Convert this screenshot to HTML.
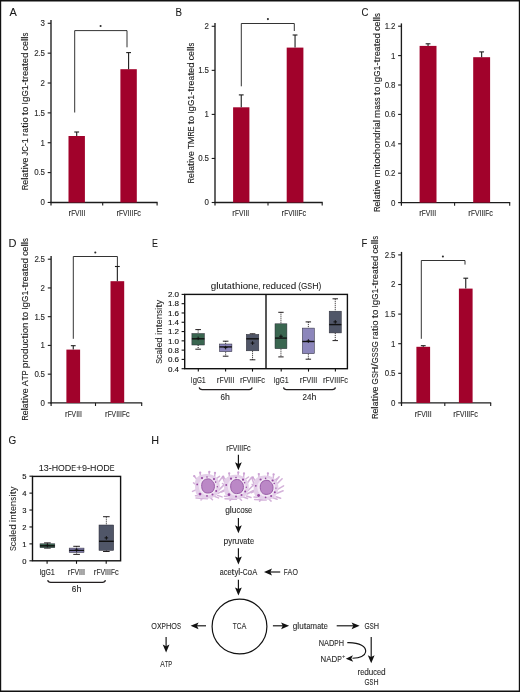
<!DOCTYPE html>
<html><head><meta charset="utf-8"><style>
html,body{margin:0;padding:0;background:#fff;}
body{width:520px;height:692px;overflow:hidden;}
svg{display:block;font-family:"Liberation Sans", sans-serif;will-change:transform;}
</style></head><body>
<svg width="520" height="692" viewBox="0 0 520 692">
<rect x="0" y="0" width="520" height="692" fill="#fff"/>
<text transform="translate(9.60,16.20)" y="0" font-size="11.2" fill="#1a1a1a" stroke="#1a1a1a" stroke-width="0.08"><tspan x="0.00" textLength="7.33" lengthAdjust="spacingAndGlyphs">A</tspan></text>
<line x1="51.0" y1="20.1" x2="51.0" y2="203.1" stroke="#1c1c1c" stroke-width="1.35"/>
<line x1="47.7" y1="202.45" x2="51.0" y2="202.45" stroke="#1c1c1c" stroke-width="1.1"/>
<text transform="translate(40.49,205.35)" y="0" font-size="8.4" fill="#2a2a2a" stroke="#2a2a2a" stroke-width="0.12"><tspan x="0.00" textLength="4.41" lengthAdjust="spacingAndGlyphs">0</tspan></text>
<line x1="47.7" y1="172.59" x2="51.0" y2="172.59" stroke="#1c1c1c" stroke-width="1.1"/>
<text transform="translate(34.30,175.49)" y="0" font-size="8.4" fill="#2a2a2a" stroke="#2a2a2a" stroke-width="0.12"><tspan x="0.00" textLength="4.41" lengthAdjust="spacingAndGlyphs">0</tspan><tspan x="4.41" textLength="1.78" lengthAdjust="spacingAndGlyphs">.</tspan><tspan x="6.19" textLength="4.41" lengthAdjust="spacingAndGlyphs">5</tspan></text>
<line x1="47.7" y1="142.73" x2="51.0" y2="142.73" stroke="#1c1c1c" stroke-width="1.1"/>
<text transform="translate(40.49,145.63)" y="0" font-size="8.4" fill="#2a2a2a" stroke="#2a2a2a" stroke-width="0.12"><tspan x="0.00" textLength="4.41" lengthAdjust="spacingAndGlyphs">1</tspan></text>
<line x1="47.7" y1="112.87" x2="51.0" y2="112.87" stroke="#1c1c1c" stroke-width="1.1"/>
<text transform="translate(34.30,115.77)" y="0" font-size="8.4" fill="#2a2a2a" stroke="#2a2a2a" stroke-width="0.12"><tspan x="0.00" textLength="4.41" lengthAdjust="spacingAndGlyphs">1</tspan><tspan x="4.41" textLength="1.78" lengthAdjust="spacingAndGlyphs">.</tspan><tspan x="6.19" textLength="4.41" lengthAdjust="spacingAndGlyphs">5</tspan></text>
<line x1="47.7" y1="83.01" x2="51.0" y2="83.01" stroke="#1c1c1c" stroke-width="1.1"/>
<text transform="translate(40.49,85.91)" y="0" font-size="8.4" fill="#2a2a2a" stroke="#2a2a2a" stroke-width="0.12"><tspan x="0.00" textLength="4.41" lengthAdjust="spacingAndGlyphs">2</tspan></text>
<line x1="47.7" y1="53.15" x2="51.0" y2="53.15" stroke="#1c1c1c" stroke-width="1.1"/>
<text transform="translate(34.30,56.05)" y="0" font-size="8.4" fill="#2a2a2a" stroke="#2a2a2a" stroke-width="0.12"><tspan x="0.00" textLength="4.41" lengthAdjust="spacingAndGlyphs">2</tspan><tspan x="4.41" textLength="1.78" lengthAdjust="spacingAndGlyphs">.</tspan><tspan x="6.19" textLength="4.41" lengthAdjust="spacingAndGlyphs">5</tspan></text>
<line x1="47.7" y1="23.29" x2="51.0" y2="23.29" stroke="#1c1c1c" stroke-width="1.1"/>
<text transform="translate(40.49,26.19)" y="0" font-size="8.4" fill="#2a2a2a" stroke="#2a2a2a" stroke-width="0.12"><tspan x="0.00" textLength="4.41" lengthAdjust="spacingAndGlyphs">3</tspan></text>
<line x1="50.4" y1="202.5" x2="157.6" y2="202.5" stroke="#1c1c1c" stroke-width="1.35"/>
<line x1="102.7" y1="202.5" x2="102.7" y2="205.6" stroke="#1c1c1c" stroke-width="1.1"/>
<line x1="157.1" y1="202.5" x2="157.1" y2="205.6" stroke="#1c1c1c" stroke-width="1.1"/>
<line x1="51.0" y1="202.5" x2="51.0" y2="205.6" stroke="#1c1c1c" stroke-width="1.2"/>
<rect x="68.5" y="136.0" width="16.400000000000006" height="66.5" fill="#a1022b"/>
<line x1="76.7" y1="136.0" x2="76.7" y2="132.0" stroke="#1c1c1c" stroke-width="1.1"/>
<line x1="74.3" y1="132.0" x2="79.1" y2="132.0" stroke="#1c1c1c" stroke-width="1.1"/>
<rect x="120.4" y="69.2" width="16.400000000000006" height="133.3" fill="#a1022b"/>
<line x1="128.6" y1="69.2" x2="128.6" y2="52.6" stroke="#1c1c1c" stroke-width="1.1"/>
<line x1="126.2" y1="52.6" x2="131.0" y2="52.6" stroke="#1c1c1c" stroke-width="1.1"/>
<text transform="translate(68.50,215.80)" y="0" font-size="8.2" fill="#2a2a2a" stroke="#2a2a2a" stroke-width="0.1"><tspan x="0.00" textLength="2.66" lengthAdjust="spacingAndGlyphs">r</tspan><tspan x="2.66" textLength="3.96" lengthAdjust="spacingAndGlyphs">F</tspan><tspan x="6.62" textLength="4.54" lengthAdjust="spacingAndGlyphs">V</tspan><tspan x="11.17" textLength="1.94" lengthAdjust="spacingAndGlyphs">I</tspan><tspan x="13.11" textLength="1.94" lengthAdjust="spacingAndGlyphs">I</tspan><tspan x="15.06" textLength="1.94" lengthAdjust="spacingAndGlyphs">I</tspan></text>
<text transform="translate(116.40,215.80)" y="0" font-size="8.2" fill="#2a2a2a" stroke="#2a2a2a" stroke-width="0.1"><tspan x="0.00" textLength="2.66" lengthAdjust="spacingAndGlyphs">r</tspan><tspan x="2.66" textLength="3.96" lengthAdjust="spacingAndGlyphs">F</tspan><tspan x="6.62" textLength="4.54" lengthAdjust="spacingAndGlyphs">V</tspan><tspan x="11.16" textLength="1.94" lengthAdjust="spacingAndGlyphs">I</tspan><tspan x="13.11" textLength="1.94" lengthAdjust="spacingAndGlyphs">I</tspan><tspan x="15.05" textLength="1.94" lengthAdjust="spacingAndGlyphs">I</tspan><tspan x="16.99" textLength="3.96" lengthAdjust="spacingAndGlyphs">F</tspan><tspan x="20.96" textLength="3.64" lengthAdjust="spacingAndGlyphs">c</tspan></text>
<text transform="translate(28.1,189.9) rotate(-90)" y="0" font-size="9.4" fill="#1a1a1a" stroke="#1a1a1a" stroke-width="0.12"><tspan x="0.00" textLength="5.27" lengthAdjust="spacingAndGlyphs">R</tspan><tspan x="5.27" textLength="4.91" lengthAdjust="spacingAndGlyphs">e</tspan><tspan x="10.18" textLength="2.31" lengthAdjust="spacingAndGlyphs">l</tspan><tspan x="12.49" textLength="4.72" lengthAdjust="spacingAndGlyphs">a</tspan><tspan x="17.21" textLength="3.24" lengthAdjust="spacingAndGlyphs">t</tspan><tspan x="20.46" textLength="2.29" lengthAdjust="spacingAndGlyphs">i</tspan><tspan x="22.75" textLength="4.71" lengthAdjust="spacingAndGlyphs">v</tspan><tspan x="27.46" textLength="4.91" lengthAdjust="spacingAndGlyphs">e</tspan><tspan x="34.45" textLength="3.63" lengthAdjust="spacingAndGlyphs">J</tspan><tspan x="38.07" textLength="5.68" lengthAdjust="spacingAndGlyphs">C</tspan><tspan x="43.76" textLength="3.01" lengthAdjust="spacingAndGlyphs">-</tspan><tspan x="46.76" textLength="5.03" lengthAdjust="spacingAndGlyphs">1</tspan><tspan x="53.87" textLength="3.20" lengthAdjust="spacingAndGlyphs">r</tspan><tspan x="57.07" textLength="4.72" lengthAdjust="spacingAndGlyphs">a</tspan><tspan x="61.79" textLength="3.24" lengthAdjust="spacingAndGlyphs">t</tspan><tspan x="65.04" textLength="2.29" lengthAdjust="spacingAndGlyphs">i</tspan><tspan x="67.33" textLength="5.38" lengthAdjust="spacingAndGlyphs">o</tspan><tspan x="74.78" textLength="3.24" lengthAdjust="spacingAndGlyphs">t</tspan><tspan x="78.03" textLength="5.38" lengthAdjust="spacingAndGlyphs">o</tspan><tspan x="85.48" textLength="2.34" lengthAdjust="spacingAndGlyphs">I</tspan><tspan x="87.83" textLength="5.48" lengthAdjust="spacingAndGlyphs">g</tspan><tspan x="93.30" textLength="6.33" lengthAdjust="spacingAndGlyphs">G</tspan><tspan x="99.63" textLength="5.03" lengthAdjust="spacingAndGlyphs">1</tspan><tspan x="104.66" textLength="3.01" lengthAdjust="spacingAndGlyphs">-</tspan><tspan x="107.67" textLength="3.24" lengthAdjust="spacingAndGlyphs">t</tspan><tspan x="110.91" textLength="3.20" lengthAdjust="spacingAndGlyphs">r</tspan><tspan x="114.11" textLength="4.91" lengthAdjust="spacingAndGlyphs">e</tspan><tspan x="119.02" textLength="4.72" lengthAdjust="spacingAndGlyphs">a</tspan><tspan x="123.74" textLength="3.24" lengthAdjust="spacingAndGlyphs">t</tspan><tspan x="126.99" textLength="4.91" lengthAdjust="spacingAndGlyphs">e</tspan><tspan x="131.89" textLength="5.53" lengthAdjust="spacingAndGlyphs">d</tspan><tspan x="139.50" textLength="4.39" lengthAdjust="spacingAndGlyphs">c</tspan><tspan x="143.89" textLength="4.91" lengthAdjust="spacingAndGlyphs">e</tspan><tspan x="148.80" textLength="2.31" lengthAdjust="spacingAndGlyphs">l</tspan><tspan x="151.11" textLength="2.31" lengthAdjust="spacingAndGlyphs">l</tspan><tspan x="153.42" textLength="3.88" lengthAdjust="spacingAndGlyphs">s</tspan></text>
<path d="M74.7,112.5 V30.6 H127.0 V47.3" stroke="#1c1c1c" stroke-width="0.9" fill="none"/>
<circle cx="100.6" cy="26.0" r="1.05" fill="#2a2a2a"/>
<text transform="translate(175.50,15.60)" y="0" font-size="11.2" fill="#1a1a1a" stroke="#1a1a1a" stroke-width="0.08"><tspan x="0.00" textLength="6.49" lengthAdjust="spacingAndGlyphs">B</tspan></text>
<line x1="215.0" y1="23.1" x2="215.0" y2="203.1" stroke="#1c1c1c" stroke-width="1.35"/>
<line x1="211.7" y1="202.5" x2="215.0" y2="202.5" stroke="#1c1c1c" stroke-width="1.1"/>
<text transform="translate(204.49,205.40)" y="0" font-size="8.4" fill="#2a2a2a" stroke="#2a2a2a" stroke-width="0.12"><tspan x="0.00" textLength="4.41" lengthAdjust="spacingAndGlyphs">0</tspan></text>
<line x1="211.7" y1="158.45" x2="215.0" y2="158.45" stroke="#1c1c1c" stroke-width="1.1"/>
<text transform="translate(198.30,161.35)" y="0" font-size="8.4" fill="#2a2a2a" stroke="#2a2a2a" stroke-width="0.12"><tspan x="0.00" textLength="4.41" lengthAdjust="spacingAndGlyphs">0</tspan><tspan x="4.41" textLength="1.78" lengthAdjust="spacingAndGlyphs">.</tspan><tspan x="6.19" textLength="4.41" lengthAdjust="spacingAndGlyphs">5</tspan></text>
<line x1="211.7" y1="114.4" x2="215.0" y2="114.4" stroke="#1c1c1c" stroke-width="1.1"/>
<text transform="translate(204.49,117.30)" y="0" font-size="8.4" fill="#2a2a2a" stroke="#2a2a2a" stroke-width="0.12"><tspan x="0.00" textLength="4.41" lengthAdjust="spacingAndGlyphs">1</tspan></text>
<line x1="211.7" y1="70.35" x2="215.0" y2="70.35" stroke="#1c1c1c" stroke-width="1.1"/>
<text transform="translate(198.30,73.25)" y="0" font-size="8.4" fill="#2a2a2a" stroke="#2a2a2a" stroke-width="0.12"><tspan x="0.00" textLength="4.41" lengthAdjust="spacingAndGlyphs">1</tspan><tspan x="4.41" textLength="1.78" lengthAdjust="spacingAndGlyphs">.</tspan><tspan x="6.19" textLength="4.41" lengthAdjust="spacingAndGlyphs">5</tspan></text>
<line x1="211.7" y1="26.3" x2="215.0" y2="26.3" stroke="#1c1c1c" stroke-width="1.1"/>
<text transform="translate(204.49,29.20)" y="0" font-size="8.4" fill="#2a2a2a" stroke="#2a2a2a" stroke-width="0.12"><tspan x="0.00" textLength="4.41" lengthAdjust="spacingAndGlyphs">2</tspan></text>
<line x1="214.4" y1="202.5" x2="322.7" y2="202.5" stroke="#1c1c1c" stroke-width="1.35"/>
<line x1="268.0" y1="202.5" x2="268.0" y2="205.6" stroke="#1c1c1c" stroke-width="1.1"/>
<line x1="322.2" y1="202.5" x2="322.2" y2="205.6" stroke="#1c1c1c" stroke-width="1.1"/>
<line x1="215.0" y1="202.5" x2="215.0" y2="205.6" stroke="#1c1c1c" stroke-width="1.2"/>
<rect x="233.1" y="107.3" width="16.30000000000001" height="95.2" fill="#a1022b"/>
<line x1="241.25" y1="107.3" x2="241.25" y2="94.9" stroke="#1c1c1c" stroke-width="1.1"/>
<line x1="238.85" y1="94.9" x2="243.65" y2="94.9" stroke="#1c1c1c" stroke-width="1.1"/>
<rect x="286.7" y="47.6" width="16.69999999999999" height="154.9" fill="#a1022b"/>
<line x1="295.05" y1="47.6" x2="295.05" y2="35.0" stroke="#1c1c1c" stroke-width="1.1"/>
<line x1="292.65" y1="35.0" x2="297.45" y2="35.0" stroke="#1c1c1c" stroke-width="1.1"/>
<text transform="translate(232.30,215.80)" y="0" font-size="8.2" fill="#2a2a2a" stroke="#2a2a2a" stroke-width="0.1"><tspan x="0.00" textLength="2.66" lengthAdjust="spacingAndGlyphs">r</tspan><tspan x="2.66" textLength="3.96" lengthAdjust="spacingAndGlyphs">F</tspan><tspan x="6.62" textLength="4.54" lengthAdjust="spacingAndGlyphs">V</tspan><tspan x="11.17" textLength="1.94" lengthAdjust="spacingAndGlyphs">I</tspan><tspan x="13.11" textLength="1.94" lengthAdjust="spacingAndGlyphs">I</tspan><tspan x="15.06" textLength="1.94" lengthAdjust="spacingAndGlyphs">I</tspan></text>
<text transform="translate(281.60,215.80)" y="0" font-size="8.2" fill="#2a2a2a" stroke="#2a2a2a" stroke-width="0.1"><tspan x="0.00" textLength="2.66" lengthAdjust="spacingAndGlyphs">r</tspan><tspan x="2.66" textLength="3.96" lengthAdjust="spacingAndGlyphs">F</tspan><tspan x="6.62" textLength="4.54" lengthAdjust="spacingAndGlyphs">V</tspan><tspan x="11.16" textLength="1.94" lengthAdjust="spacingAndGlyphs">I</tspan><tspan x="13.11" textLength="1.94" lengthAdjust="spacingAndGlyphs">I</tspan><tspan x="15.05" textLength="1.94" lengthAdjust="spacingAndGlyphs">I</tspan><tspan x="16.99" textLength="3.96" lengthAdjust="spacingAndGlyphs">F</tspan><tspan x="20.96" textLength="3.64" lengthAdjust="spacingAndGlyphs">c</tspan></text>
<text transform="translate(194.0,183.2) rotate(-90)" y="0" font-size="9.4" fill="#1a1a1a" stroke="#1a1a1a" stroke-width="0.12"><tspan x="0.00" textLength="5.22" lengthAdjust="spacingAndGlyphs">R</tspan><tspan x="5.22" textLength="4.86" lengthAdjust="spacingAndGlyphs">e</tspan><tspan x="10.09" textLength="2.29" lengthAdjust="spacingAndGlyphs">l</tspan><tspan x="12.38" textLength="4.68" lengthAdjust="spacingAndGlyphs">a</tspan><tspan x="17.06" textLength="3.21" lengthAdjust="spacingAndGlyphs">t</tspan><tspan x="20.27" textLength="2.27" lengthAdjust="spacingAndGlyphs">i</tspan><tspan x="22.54" textLength="4.67" lengthAdjust="spacingAndGlyphs">v</tspan><tspan x="27.22" textLength="4.86" lengthAdjust="spacingAndGlyphs">e</tspan><tspan x="34.14" textLength="4.83" lengthAdjust="spacingAndGlyphs">T</tspan><tspan x="38.96" textLength="7.81" lengthAdjust="spacingAndGlyphs">M</tspan><tspan x="46.77" textLength="5.22" lengthAdjust="spacingAndGlyphs">R</tspan><tspan x="51.99" textLength="4.78" lengthAdjust="spacingAndGlyphs">E</tspan><tspan x="58.83" textLength="3.21" lengthAdjust="spacingAndGlyphs">t</tspan><tspan x="62.04" textLength="5.33" lengthAdjust="spacingAndGlyphs">o</tspan><tspan x="69.43" textLength="2.32" lengthAdjust="spacingAndGlyphs">I</tspan><tspan x="71.75" textLength="5.43" lengthAdjust="spacingAndGlyphs">g</tspan><tspan x="77.18" textLength="6.27" lengthAdjust="spacingAndGlyphs">G</tspan><tspan x="83.45" textLength="4.98" lengthAdjust="spacingAndGlyphs">1</tspan><tspan x="88.43" textLength="2.98" lengthAdjust="spacingAndGlyphs">-</tspan><tspan x="91.41" textLength="3.21" lengthAdjust="spacingAndGlyphs">t</tspan><tspan x="94.63" textLength="3.17" lengthAdjust="spacingAndGlyphs">r</tspan><tspan x="97.80" textLength="4.86" lengthAdjust="spacingAndGlyphs">e</tspan><tspan x="102.67" textLength="4.68" lengthAdjust="spacingAndGlyphs">a</tspan><tspan x="107.35" textLength="3.21" lengthAdjust="spacingAndGlyphs">t</tspan><tspan x="110.56" textLength="4.86" lengthAdjust="spacingAndGlyphs">e</tspan><tspan x="115.42" textLength="5.48" lengthAdjust="spacingAndGlyphs">d</tspan><tspan x="122.96" textLength="4.35" lengthAdjust="spacingAndGlyphs">c</tspan><tspan x="127.31" textLength="4.86" lengthAdjust="spacingAndGlyphs">e</tspan><tspan x="132.17" textLength="2.29" lengthAdjust="spacingAndGlyphs">l</tspan><tspan x="134.46" textLength="2.29" lengthAdjust="spacingAndGlyphs">l</tspan><tspan x="136.76" textLength="3.84" lengthAdjust="spacingAndGlyphs">s</tspan></text>
<path d="M241.3,86.3 V23.5 H294.3 V31.0" stroke="#1c1c1c" stroke-width="0.9" fill="none"/>
<circle cx="267.9" cy="19.1" r="1.05" fill="#2a2a2a"/>
<text transform="translate(361.40,16.30)" y="0" font-size="11.2" fill="#1a1a1a" stroke="#1a1a1a" stroke-width="0.08"><tspan x="0.00" textLength="6.95" lengthAdjust="spacingAndGlyphs">C</tspan></text>
<line x1="401.4" y1="23.4" x2="401.4" y2="203.2" stroke="#1c1c1c" stroke-width="1.35"/>
<line x1="398.1" y1="202.6" x2="401.4" y2="202.6" stroke="#1c1c1c" stroke-width="1.1"/>
<text transform="translate(390.89,205.50)" y="0" font-size="8.4" fill="#2a2a2a" stroke="#2a2a2a" stroke-width="0.12"><tspan x="0.00" textLength="4.41" lengthAdjust="spacingAndGlyphs">0</tspan></text>
<line x1="398.1" y1="173.2" x2="401.4" y2="173.2" stroke="#1c1c1c" stroke-width="1.1"/>
<text transform="translate(384.70,176.10)" y="0" font-size="8.4" fill="#2a2a2a" stroke="#2a2a2a" stroke-width="0.12"><tspan x="0.00" textLength="4.41" lengthAdjust="spacingAndGlyphs">0</tspan><tspan x="4.41" textLength="1.78" lengthAdjust="spacingAndGlyphs">.</tspan><tspan x="6.19" textLength="4.41" lengthAdjust="spacingAndGlyphs">2</tspan></text>
<line x1="398.1" y1="143.8" x2="401.4" y2="143.8" stroke="#1c1c1c" stroke-width="1.1"/>
<text transform="translate(384.70,146.70)" y="0" font-size="8.4" fill="#2a2a2a" stroke="#2a2a2a" stroke-width="0.12"><tspan x="0.00" textLength="4.41" lengthAdjust="spacingAndGlyphs">0</tspan><tspan x="4.41" textLength="1.78" lengthAdjust="spacingAndGlyphs">.</tspan><tspan x="6.19" textLength="4.41" lengthAdjust="spacingAndGlyphs">4</tspan></text>
<line x1="398.1" y1="114.4" x2="401.4" y2="114.4" stroke="#1c1c1c" stroke-width="1.1"/>
<text transform="translate(384.70,117.30)" y="0" font-size="8.4" fill="#2a2a2a" stroke="#2a2a2a" stroke-width="0.12"><tspan x="0.00" textLength="4.41" lengthAdjust="spacingAndGlyphs">0</tspan><tspan x="4.41" textLength="1.78" lengthAdjust="spacingAndGlyphs">.</tspan><tspan x="6.19" textLength="4.41" lengthAdjust="spacingAndGlyphs">6</tspan></text>
<line x1="398.1" y1="85.0" x2="401.4" y2="85.0" stroke="#1c1c1c" stroke-width="1.1"/>
<text transform="translate(384.70,87.90)" y="0" font-size="8.4" fill="#2a2a2a" stroke="#2a2a2a" stroke-width="0.12"><tspan x="0.00" textLength="4.41" lengthAdjust="spacingAndGlyphs">0</tspan><tspan x="4.41" textLength="1.78" lengthAdjust="spacingAndGlyphs">.</tspan><tspan x="6.19" textLength="4.41" lengthAdjust="spacingAndGlyphs">8</tspan></text>
<line x1="398.1" y1="55.6" x2="401.4" y2="55.6" stroke="#1c1c1c" stroke-width="1.1"/>
<text transform="translate(390.89,58.50)" y="0" font-size="8.4" fill="#2a2a2a" stroke="#2a2a2a" stroke-width="0.12"><tspan x="0.00" textLength="4.41" lengthAdjust="spacingAndGlyphs">1</tspan></text>
<line x1="398.1" y1="26.2" x2="401.4" y2="26.2" stroke="#1c1c1c" stroke-width="1.1"/>
<text transform="translate(384.70,29.10)" y="0" font-size="8.4" fill="#2a2a2a" stroke="#2a2a2a" stroke-width="0.12"><tspan x="0.00" textLength="4.41" lengthAdjust="spacingAndGlyphs">1</tspan><tspan x="4.41" textLength="1.78" lengthAdjust="spacingAndGlyphs">.</tspan><tspan x="6.19" textLength="4.41" lengthAdjust="spacingAndGlyphs">2</tspan></text>
<line x1="400.8" y1="202.6" x2="510.2" y2="202.6" stroke="#1c1c1c" stroke-width="1.35"/>
<line x1="454.6" y1="202.6" x2="454.6" y2="205.7" stroke="#1c1c1c" stroke-width="1.1"/>
<line x1="509.7" y1="202.6" x2="509.7" y2="205.7" stroke="#1c1c1c" stroke-width="1.1"/>
<line x1="401.4" y1="202.6" x2="401.4" y2="205.7" stroke="#1c1c1c" stroke-width="1.2"/>
<rect x="419.6" y="45.9" width="16.899999999999977" height="156.7" fill="#a1022b"/>
<line x1="428.05" y1="45.9" x2="428.05" y2="43.8" stroke="#1c1c1c" stroke-width="1.1"/>
<line x1="425.65" y1="43.8" x2="430.45" y2="43.8" stroke="#1c1c1c" stroke-width="1.1"/>
<rect x="473.2" y="57.2" width="16.900000000000034" height="145.39999999999998" fill="#a1022b"/>
<line x1="481.65" y1="57.2" x2="481.65" y2="51.9" stroke="#1c1c1c" stroke-width="1.1"/>
<line x1="479.25" y1="51.9" x2="484.05" y2="51.9" stroke="#1c1c1c" stroke-width="1.1"/>
<text transform="translate(419.20,215.80)" y="0" font-size="8.2" fill="#2a2a2a" stroke="#2a2a2a" stroke-width="0.1"><tspan x="0.00" textLength="2.66" lengthAdjust="spacingAndGlyphs">r</tspan><tspan x="2.66" textLength="3.96" lengthAdjust="spacingAndGlyphs">F</tspan><tspan x="6.62" textLength="4.54" lengthAdjust="spacingAndGlyphs">V</tspan><tspan x="11.17" textLength="1.94" lengthAdjust="spacingAndGlyphs">I</tspan><tspan x="13.11" textLength="1.94" lengthAdjust="spacingAndGlyphs">I</tspan><tspan x="15.06" textLength="1.94" lengthAdjust="spacingAndGlyphs">I</tspan></text>
<text transform="translate(468.30,215.80)" y="0" font-size="8.2" fill="#2a2a2a" stroke="#2a2a2a" stroke-width="0.1"><tspan x="0.00" textLength="2.66" lengthAdjust="spacingAndGlyphs">r</tspan><tspan x="2.66" textLength="3.96" lengthAdjust="spacingAndGlyphs">F</tspan><tspan x="6.62" textLength="4.54" lengthAdjust="spacingAndGlyphs">V</tspan><tspan x="11.16" textLength="1.94" lengthAdjust="spacingAndGlyphs">I</tspan><tspan x="13.11" textLength="1.94" lengthAdjust="spacingAndGlyphs">I</tspan><tspan x="15.05" textLength="1.94" lengthAdjust="spacingAndGlyphs">I</tspan><tspan x="16.99" textLength="3.96" lengthAdjust="spacingAndGlyphs">F</tspan><tspan x="20.96" textLength="3.64" lengthAdjust="spacingAndGlyphs">c</tspan></text>
<text transform="translate(379.8,211.8) rotate(-90)" y="0" font-size="9.4" fill="#1a1a1a" stroke="#1a1a1a" stroke-width="0.12"><tspan x="0.00" textLength="5.25" lengthAdjust="spacingAndGlyphs">R</tspan><tspan x="5.25" textLength="4.89" lengthAdjust="spacingAndGlyphs">e</tspan><tspan x="10.14" textLength="2.30" lengthAdjust="spacingAndGlyphs">l</tspan><tspan x="12.44" textLength="4.70" lengthAdjust="spacingAndGlyphs">a</tspan><tspan x="17.14" textLength="3.23" lengthAdjust="spacingAndGlyphs">t</tspan><tspan x="20.37" textLength="2.28" lengthAdjust="spacingAndGlyphs">i</tspan><tspan x="22.65" textLength="4.69" lengthAdjust="spacingAndGlyphs">v</tspan><tspan x="27.34" textLength="4.89" lengthAdjust="spacingAndGlyphs">e</tspan><tspan x="34.30" textLength="8.14" lengthAdjust="spacingAndGlyphs">m</tspan><tspan x="42.44" textLength="2.28" lengthAdjust="spacingAndGlyphs">i</tspan><tspan x="44.72" textLength="3.23" lengthAdjust="spacingAndGlyphs">t</tspan><tspan x="47.95" textLength="5.36" lengthAdjust="spacingAndGlyphs">o</tspan><tspan x="53.30" textLength="4.37" lengthAdjust="spacingAndGlyphs">c</tspan><tspan x="57.67" textLength="5.41" lengthAdjust="spacingAndGlyphs">h</tspan><tspan x="63.09" textLength="5.36" lengthAdjust="spacingAndGlyphs">o</tspan><tspan x="68.44" textLength="5.41" lengthAdjust="spacingAndGlyphs">n</tspan><tspan x="73.86" textLength="5.50" lengthAdjust="spacingAndGlyphs">d</tspan><tspan x="79.36" textLength="3.19" lengthAdjust="spacingAndGlyphs">r</tspan><tspan x="82.55" textLength="2.28" lengthAdjust="spacingAndGlyphs">i</tspan><tspan x="84.83" textLength="4.70" lengthAdjust="spacingAndGlyphs">a</tspan><tspan x="89.54" textLength="2.30" lengthAdjust="spacingAndGlyphs">l</tspan><tspan x="93.91" textLength="8.14" lengthAdjust="spacingAndGlyphs">m</tspan><tspan x="102.04" textLength="4.70" lengthAdjust="spacingAndGlyphs">a</tspan><tspan x="106.74" textLength="3.86" lengthAdjust="spacingAndGlyphs">s</tspan><tspan x="110.61" textLength="3.86" lengthAdjust="spacingAndGlyphs">s</tspan><tspan x="116.54" textLength="3.23" lengthAdjust="spacingAndGlyphs">t</tspan><tspan x="119.77" textLength="5.36" lengthAdjust="spacingAndGlyphs">o</tspan><tspan x="127.19" textLength="2.33" lengthAdjust="spacingAndGlyphs">I</tspan><tspan x="129.52" textLength="5.45" lengthAdjust="spacingAndGlyphs">g</tspan><tspan x="134.98" textLength="6.30" lengthAdjust="spacingAndGlyphs">G</tspan><tspan x="141.28" textLength="5.00" lengthAdjust="spacingAndGlyphs">1</tspan><tspan x="146.28" textLength="2.99" lengthAdjust="spacingAndGlyphs">-</tspan><tspan x="149.28" textLength="3.23" lengthAdjust="spacingAndGlyphs">t</tspan><tspan x="152.51" textLength="3.19" lengthAdjust="spacingAndGlyphs">r</tspan><tspan x="155.70" textLength="4.89" lengthAdjust="spacingAndGlyphs">e</tspan><tspan x="160.59" textLength="4.70" lengthAdjust="spacingAndGlyphs">a</tspan><tspan x="165.29" textLength="3.23" lengthAdjust="spacingAndGlyphs">t</tspan><tspan x="168.52" textLength="4.89" lengthAdjust="spacingAndGlyphs">e</tspan><tspan x="173.40" textLength="5.50" lengthAdjust="spacingAndGlyphs">d</tspan><tspan x="180.97" textLength="4.37" lengthAdjust="spacingAndGlyphs">c</tspan><tspan x="185.34" textLength="4.89" lengthAdjust="spacingAndGlyphs">e</tspan><tspan x="190.23" textLength="2.30" lengthAdjust="spacingAndGlyphs">l</tspan><tspan x="192.53" textLength="2.30" lengthAdjust="spacingAndGlyphs">l</tspan><tspan x="194.84" textLength="3.86" lengthAdjust="spacingAndGlyphs">s</tspan></text>
<text transform="translate(8.40,247.00)" y="0" font-size="11.2" fill="#1a1a1a" stroke="#1a1a1a" stroke-width="0.08"><tspan x="0.00" textLength="7.98" lengthAdjust="spacingAndGlyphs">D</tspan></text>
<line x1="51.1" y1="256.0" x2="51.1" y2="403.5" stroke="#1c1c1c" stroke-width="1.35"/>
<line x1="47.8" y1="402.9" x2="51.1" y2="402.9" stroke="#1c1c1c" stroke-width="1.1"/>
<text transform="translate(40.59,405.80)" y="0" font-size="8.4" fill="#2a2a2a" stroke="#2a2a2a" stroke-width="0.12"><tspan x="0.00" textLength="4.41" lengthAdjust="spacingAndGlyphs">0</tspan></text>
<line x1="47.8" y1="374.16" x2="51.1" y2="374.16" stroke="#1c1c1c" stroke-width="1.1"/>
<text transform="translate(34.40,377.06)" y="0" font-size="8.4" fill="#2a2a2a" stroke="#2a2a2a" stroke-width="0.12"><tspan x="0.00" textLength="4.41" lengthAdjust="spacingAndGlyphs">0</tspan><tspan x="4.41" textLength="1.78" lengthAdjust="spacingAndGlyphs">.</tspan><tspan x="6.19" textLength="4.41" lengthAdjust="spacingAndGlyphs">5</tspan></text>
<line x1="47.8" y1="345.42" x2="51.1" y2="345.42" stroke="#1c1c1c" stroke-width="1.1"/>
<text transform="translate(40.59,348.32)" y="0" font-size="8.4" fill="#2a2a2a" stroke="#2a2a2a" stroke-width="0.12"><tspan x="0.00" textLength="4.41" lengthAdjust="spacingAndGlyphs">1</tspan></text>
<line x1="47.8" y1="316.68" x2="51.1" y2="316.68" stroke="#1c1c1c" stroke-width="1.1"/>
<text transform="translate(34.40,319.58)" y="0" font-size="8.4" fill="#2a2a2a" stroke="#2a2a2a" stroke-width="0.12"><tspan x="0.00" textLength="4.41" lengthAdjust="spacingAndGlyphs">1</tspan><tspan x="4.41" textLength="1.78" lengthAdjust="spacingAndGlyphs">.</tspan><tspan x="6.19" textLength="4.41" lengthAdjust="spacingAndGlyphs">5</tspan></text>
<line x1="47.8" y1="287.94" x2="51.1" y2="287.94" stroke="#1c1c1c" stroke-width="1.1"/>
<text transform="translate(40.59,290.84)" y="0" font-size="8.4" fill="#2a2a2a" stroke="#2a2a2a" stroke-width="0.12"><tspan x="0.00" textLength="4.41" lengthAdjust="spacingAndGlyphs">2</tspan></text>
<line x1="47.8" y1="259.2" x2="51.1" y2="259.2" stroke="#1c1c1c" stroke-width="1.1"/>
<text transform="translate(34.40,262.10)" y="0" font-size="8.4" fill="#2a2a2a" stroke="#2a2a2a" stroke-width="0.12"><tspan x="0.00" textLength="4.41" lengthAdjust="spacingAndGlyphs">2</tspan><tspan x="4.41" textLength="1.78" lengthAdjust="spacingAndGlyphs">.</tspan><tspan x="6.19" textLength="4.41" lengthAdjust="spacingAndGlyphs">5</tspan></text>
<line x1="50.5" y1="402.9" x2="142.2" y2="402.9" stroke="#1c1c1c" stroke-width="1.35"/>
<line x1="95.5" y1="402.9" x2="95.5" y2="406.0" stroke="#1c1c1c" stroke-width="1.1"/>
<line x1="141.7" y1="402.9" x2="141.7" y2="406.0" stroke="#1c1c1c" stroke-width="1.1"/>
<line x1="51.1" y1="402.9" x2="51.1" y2="406.0" stroke="#1c1c1c" stroke-width="1.2"/>
<rect x="66.4" y="349.6" width="13.699999999999989" height="53.299999999999955" fill="#a1022b"/>
<line x1="73.25" y1="349.6" x2="73.25" y2="345.7" stroke="#1c1c1c" stroke-width="1.1"/>
<line x1="70.85" y1="345.7" x2="75.65" y2="345.7" stroke="#1c1c1c" stroke-width="1.1"/>
<rect x="110.5" y="281.2" width="13.700000000000003" height="121.69999999999999" fill="#a1022b"/>
<line x1="117.35" y1="281.2" x2="117.35" y2="266.5" stroke="#1c1c1c" stroke-width="1.1"/>
<line x1="114.95" y1="266.5" x2="119.75" y2="266.5" stroke="#1c1c1c" stroke-width="1.1"/>
<text transform="translate(65.00,416.90)" y="0" font-size="8.2" fill="#2a2a2a" stroke="#2a2a2a" stroke-width="0.1"><tspan x="0.00" textLength="2.66" lengthAdjust="spacingAndGlyphs">r</tspan><tspan x="2.66" textLength="3.96" lengthAdjust="spacingAndGlyphs">F</tspan><tspan x="6.62" textLength="4.54" lengthAdjust="spacingAndGlyphs">V</tspan><tspan x="11.17" textLength="1.94" lengthAdjust="spacingAndGlyphs">I</tspan><tspan x="13.11" textLength="1.94" lengthAdjust="spacingAndGlyphs">I</tspan><tspan x="15.06" textLength="1.94" lengthAdjust="spacingAndGlyphs">I</tspan></text>
<text transform="translate(105.00,416.90)" y="0" font-size="8.2" fill="#2a2a2a" stroke="#2a2a2a" stroke-width="0.1"><tspan x="0.00" textLength="2.66" lengthAdjust="spacingAndGlyphs">r</tspan><tspan x="2.66" textLength="3.96" lengthAdjust="spacingAndGlyphs">F</tspan><tspan x="6.62" textLength="4.54" lengthAdjust="spacingAndGlyphs">V</tspan><tspan x="11.16" textLength="1.94" lengthAdjust="spacingAndGlyphs">I</tspan><tspan x="13.11" textLength="1.94" lengthAdjust="spacingAndGlyphs">I</tspan><tspan x="15.05" textLength="1.94" lengthAdjust="spacingAndGlyphs">I</tspan><tspan x="16.99" textLength="3.96" lengthAdjust="spacingAndGlyphs">F</tspan><tspan x="20.96" textLength="3.64" lengthAdjust="spacingAndGlyphs">c</tspan></text>
<text transform="translate(28.2,420.6) rotate(-90)" y="0" font-size="9.4" fill="#1a1a1a" stroke="#1a1a1a" stroke-width="0.12"><tspan x="0.00" textLength="5.26" lengthAdjust="spacingAndGlyphs">R</tspan><tspan x="5.26" textLength="4.89" lengthAdjust="spacingAndGlyphs">e</tspan><tspan x="10.15" textLength="2.31" lengthAdjust="spacingAndGlyphs">l</tspan><tspan x="12.46" textLength="4.71" lengthAdjust="spacingAndGlyphs">a</tspan><tspan x="17.17" textLength="3.23" lengthAdjust="spacingAndGlyphs">t</tspan><tspan x="20.40" textLength="2.29" lengthAdjust="spacingAndGlyphs">i</tspan><tspan x="22.69" textLength="4.70" lengthAdjust="spacingAndGlyphs">v</tspan><tspan x="27.38" textLength="4.89" lengthAdjust="spacingAndGlyphs">e</tspan><tspan x="34.35" textLength="5.98" lengthAdjust="spacingAndGlyphs">A</tspan><tspan x="40.33" textLength="4.86" lengthAdjust="spacingAndGlyphs">T</tspan><tspan x="45.19" textLength="5.20" lengthAdjust="spacingAndGlyphs">P</tspan><tspan x="52.45" textLength="5.56" lengthAdjust="spacingAndGlyphs">p</tspan><tspan x="58.01" textLength="3.19" lengthAdjust="spacingAndGlyphs">r</tspan><tspan x="61.21" textLength="5.36" lengthAdjust="spacingAndGlyphs">o</tspan><tspan x="66.57" textLength="5.51" lengthAdjust="spacingAndGlyphs">d</tspan><tspan x="72.08" textLength="5.38" lengthAdjust="spacingAndGlyphs">u</tspan><tspan x="77.46" textLength="4.38" lengthAdjust="spacingAndGlyphs">c</tspan><tspan x="81.84" textLength="3.23" lengthAdjust="spacingAndGlyphs">t</tspan><tspan x="85.08" textLength="2.29" lengthAdjust="spacingAndGlyphs">i</tspan><tspan x="87.36" textLength="5.36" lengthAdjust="spacingAndGlyphs">o</tspan><tspan x="92.73" textLength="5.42" lengthAdjust="spacingAndGlyphs">n</tspan><tspan x="100.22" textLength="3.23" lengthAdjust="spacingAndGlyphs">t</tspan><tspan x="103.45" textLength="5.36" lengthAdjust="spacingAndGlyphs">o</tspan><tspan x="110.89" textLength="2.33" lengthAdjust="spacingAndGlyphs">I</tspan><tspan x="113.22" textLength="5.46" lengthAdjust="spacingAndGlyphs">g</tspan><tspan x="118.68" textLength="6.31" lengthAdjust="spacingAndGlyphs">G</tspan><tspan x="124.99" textLength="5.01" lengthAdjust="spacingAndGlyphs">1</tspan><tspan x="130.01" textLength="3.00" lengthAdjust="spacingAndGlyphs">-</tspan><tspan x="133.01" textLength="3.23" lengthAdjust="spacingAndGlyphs">t</tspan><tspan x="136.24" textLength="3.19" lengthAdjust="spacingAndGlyphs">r</tspan><tspan x="139.43" textLength="4.89" lengthAdjust="spacingAndGlyphs">e</tspan><tspan x="144.33" textLength="4.71" lengthAdjust="spacingAndGlyphs">a</tspan><tspan x="149.04" textLength="3.23" lengthAdjust="spacingAndGlyphs">t</tspan><tspan x="152.27" textLength="4.89" lengthAdjust="spacingAndGlyphs">e</tspan><tspan x="157.17" textLength="5.51" lengthAdjust="spacingAndGlyphs">d</tspan><tspan x="164.75" textLength="4.38" lengthAdjust="spacingAndGlyphs">c</tspan><tspan x="169.13" textLength="4.89" lengthAdjust="spacingAndGlyphs">e</tspan><tspan x="174.02" textLength="2.31" lengthAdjust="spacingAndGlyphs">l</tspan><tspan x="176.33" textLength="2.31" lengthAdjust="spacingAndGlyphs">l</tspan><tspan x="178.63" textLength="3.87" lengthAdjust="spacingAndGlyphs">s</tspan></text>
<path d="M73.3,338.8 V256.5 H117.4 V266.3" stroke="#1c1c1c" stroke-width="0.9" fill="none"/>
<circle cx="95.3" cy="252.5" r="1.05" fill="#2a2a2a"/>
<text transform="translate(361.40,246.90)" y="0" font-size="11.2" fill="#1a1a1a" stroke="#1a1a1a" stroke-width="0.08"><tspan x="0.00" textLength="5.83" lengthAdjust="spacingAndGlyphs">F</tspan></text>
<line x1="401.5" y1="251.9" x2="401.5" y2="403.5" stroke="#1c1c1c" stroke-width="1.35"/>
<line x1="398.2" y1="402.9" x2="401.5" y2="402.9" stroke="#1c1c1c" stroke-width="1.1"/>
<text transform="translate(390.99,405.80)" y="0" font-size="8.4" fill="#2a2a2a" stroke="#2a2a2a" stroke-width="0.12"><tspan x="0.00" textLength="4.41" lengthAdjust="spacingAndGlyphs">0</tspan></text>
<line x1="398.2" y1="373.3" x2="401.5" y2="373.3" stroke="#1c1c1c" stroke-width="1.1"/>
<text transform="translate(384.80,376.20)" y="0" font-size="8.4" fill="#2a2a2a" stroke="#2a2a2a" stroke-width="0.12"><tspan x="0.00" textLength="4.41" lengthAdjust="spacingAndGlyphs">0</tspan><tspan x="4.41" textLength="1.78" lengthAdjust="spacingAndGlyphs">.</tspan><tspan x="6.19" textLength="4.41" lengthAdjust="spacingAndGlyphs">5</tspan></text>
<line x1="398.2" y1="343.7" x2="401.5" y2="343.7" stroke="#1c1c1c" stroke-width="1.1"/>
<text transform="translate(390.99,346.60)" y="0" font-size="8.4" fill="#2a2a2a" stroke="#2a2a2a" stroke-width="0.12"><tspan x="0.00" textLength="4.41" lengthAdjust="spacingAndGlyphs">1</tspan></text>
<line x1="398.2" y1="314.1" x2="401.5" y2="314.1" stroke="#1c1c1c" stroke-width="1.1"/>
<text transform="translate(384.80,317.00)" y="0" font-size="8.4" fill="#2a2a2a" stroke="#2a2a2a" stroke-width="0.12"><tspan x="0.00" textLength="4.41" lengthAdjust="spacingAndGlyphs">1</tspan><tspan x="4.41" textLength="1.78" lengthAdjust="spacingAndGlyphs">.</tspan><tspan x="6.19" textLength="4.41" lengthAdjust="spacingAndGlyphs">5</tspan></text>
<line x1="398.2" y1="284.5" x2="401.5" y2="284.5" stroke="#1c1c1c" stroke-width="1.1"/>
<text transform="translate(390.99,287.40)" y="0" font-size="8.4" fill="#2a2a2a" stroke="#2a2a2a" stroke-width="0.12"><tspan x="0.00" textLength="4.41" lengthAdjust="spacingAndGlyphs">2</tspan></text>
<line x1="398.2" y1="254.9" x2="401.5" y2="254.9" stroke="#1c1c1c" stroke-width="1.1"/>
<text transform="translate(384.80,257.80)" y="0" font-size="8.4" fill="#2a2a2a" stroke="#2a2a2a" stroke-width="0.12"><tspan x="0.00" textLength="4.41" lengthAdjust="spacingAndGlyphs">2</tspan><tspan x="4.41" textLength="1.78" lengthAdjust="spacingAndGlyphs">.</tspan><tspan x="6.19" textLength="4.41" lengthAdjust="spacingAndGlyphs">5</tspan></text>
<line x1="400.9" y1="402.9" x2="491.2" y2="402.9" stroke="#1c1c1c" stroke-width="1.35"/>
<line x1="444.8" y1="402.9" x2="444.8" y2="406.0" stroke="#1c1c1c" stroke-width="1.1"/>
<line x1="490.7" y1="402.9" x2="490.7" y2="406.0" stroke="#1c1c1c" stroke-width="1.1"/>
<line x1="401.5" y1="402.9" x2="401.5" y2="406.0" stroke="#1c1c1c" stroke-width="1.2"/>
<rect x="416.4" y="346.8" width="13.700000000000045" height="56.099999999999966" fill="#a1022b"/>
<line x1="423.25" y1="346.8" x2="423.25" y2="345.7" stroke="#1c1c1c" stroke-width="1.1"/>
<line x1="420.85" y1="345.7" x2="425.65" y2="345.7" stroke="#1c1c1c" stroke-width="1.1"/>
<rect x="458.9" y="288.6" width="13.700000000000045" height="114.29999999999995" fill="#a1022b"/>
<line x1="465.75" y1="288.6" x2="465.75" y2="278.2" stroke="#1c1c1c" stroke-width="1.1"/>
<line x1="463.35" y1="278.2" x2="468.15" y2="278.2" stroke="#1c1c1c" stroke-width="1.1"/>
<text transform="translate(414.70,416.90)" y="0" font-size="8.2" fill="#2a2a2a" stroke="#2a2a2a" stroke-width="0.1"><tspan x="0.00" textLength="2.66" lengthAdjust="spacingAndGlyphs">r</tspan><tspan x="2.66" textLength="3.96" lengthAdjust="spacingAndGlyphs">F</tspan><tspan x="6.62" textLength="4.54" lengthAdjust="spacingAndGlyphs">V</tspan><tspan x="11.17" textLength="1.94" lengthAdjust="spacingAndGlyphs">I</tspan><tspan x="13.11" textLength="1.94" lengthAdjust="spacingAndGlyphs">I</tspan><tspan x="15.06" textLength="1.94" lengthAdjust="spacingAndGlyphs">I</tspan></text>
<text transform="translate(453.30,416.90)" y="0" font-size="8.2" fill="#2a2a2a" stroke="#2a2a2a" stroke-width="0.1"><tspan x="0.00" textLength="2.66" lengthAdjust="spacingAndGlyphs">r</tspan><tspan x="2.66" textLength="3.96" lengthAdjust="spacingAndGlyphs">F</tspan><tspan x="6.62" textLength="4.54" lengthAdjust="spacingAndGlyphs">V</tspan><tspan x="11.16" textLength="1.94" lengthAdjust="spacingAndGlyphs">I</tspan><tspan x="13.11" textLength="1.94" lengthAdjust="spacingAndGlyphs">I</tspan><tspan x="15.05" textLength="1.94" lengthAdjust="spacingAndGlyphs">I</tspan><tspan x="16.99" textLength="3.96" lengthAdjust="spacingAndGlyphs">F</tspan><tspan x="20.96" textLength="3.64" lengthAdjust="spacingAndGlyphs">c</tspan></text>
<text transform="translate(378.3,418.8) rotate(-90)" y="0" font-size="9.4" fill="#1a1a1a" stroke="#1a1a1a" stroke-width="0.12"><tspan x="0.00" textLength="5.27" lengthAdjust="spacingAndGlyphs">R</tspan><tspan x="5.27" textLength="4.90" lengthAdjust="spacingAndGlyphs">e</tspan><tspan x="10.17" textLength="2.31" lengthAdjust="spacingAndGlyphs">l</tspan><tspan x="12.48" textLength="4.72" lengthAdjust="spacingAndGlyphs">a</tspan><tspan x="17.20" textLength="3.24" lengthAdjust="spacingAndGlyphs">t</tspan><tspan x="20.44" textLength="2.29" lengthAdjust="spacingAndGlyphs">i</tspan><tspan x="22.73" textLength="4.71" lengthAdjust="spacingAndGlyphs">v</tspan><tspan x="27.43" textLength="4.90" lengthAdjust="spacingAndGlyphs">e</tspan><tspan x="34.41" textLength="6.32" lengthAdjust="spacingAndGlyphs">G</tspan><tspan x="40.74" textLength="4.83" lengthAdjust="spacingAndGlyphs">S</tspan><tspan x="45.56" textLength="6.38" lengthAdjust="spacingAndGlyphs">H</tspan><tspan x="51.94" textLength="3.36" lengthAdjust="spacingAndGlyphs">/</tspan><tspan x="55.30" textLength="6.32" lengthAdjust="spacingAndGlyphs">G</tspan><tspan x="61.62" textLength="4.83" lengthAdjust="spacingAndGlyphs">S</tspan><tspan x="66.45" textLength="4.83" lengthAdjust="spacingAndGlyphs">S</tspan><tspan x="71.27" textLength="6.32" lengthAdjust="spacingAndGlyphs">G</tspan><tspan x="79.67" textLength="3.20" lengthAdjust="spacingAndGlyphs">r</tspan><tspan x="82.87" textLength="4.72" lengthAdjust="spacingAndGlyphs">a</tspan><tspan x="87.59" textLength="3.24" lengthAdjust="spacingAndGlyphs">t</tspan><tspan x="90.83" textLength="2.29" lengthAdjust="spacingAndGlyphs">i</tspan><tspan x="93.12" textLength="5.37" lengthAdjust="spacingAndGlyphs">o</tspan><tspan x="100.57" textLength="3.24" lengthAdjust="spacingAndGlyphs">t</tspan><tspan x="103.81" textLength="5.37" lengthAdjust="spacingAndGlyphs">o</tspan><tspan x="111.26" textLength="2.34" lengthAdjust="spacingAndGlyphs">I</tspan><tspan x="113.60" textLength="5.47" lengthAdjust="spacingAndGlyphs">g</tspan><tspan x="119.07" textLength="6.32" lengthAdjust="spacingAndGlyphs">G</tspan><tspan x="125.39" textLength="5.02" lengthAdjust="spacingAndGlyphs">1</tspan><tspan x="130.41" textLength="3.00" lengthAdjust="spacingAndGlyphs">-</tspan><tspan x="133.42" textLength="3.24" lengthAdjust="spacingAndGlyphs">t</tspan><tspan x="136.66" textLength="3.20" lengthAdjust="spacingAndGlyphs">r</tspan><tspan x="139.86" textLength="4.90" lengthAdjust="spacingAndGlyphs">e</tspan><tspan x="144.76" textLength="4.72" lengthAdjust="spacingAndGlyphs">a</tspan><tspan x="149.48" textLength="3.24" lengthAdjust="spacingAndGlyphs">t</tspan><tspan x="152.72" textLength="4.90" lengthAdjust="spacingAndGlyphs">e</tspan><tspan x="157.62" textLength="5.52" lengthAdjust="spacingAndGlyphs">d</tspan><tspan x="165.22" textLength="4.38" lengthAdjust="spacingAndGlyphs">c</tspan><tspan x="169.60" textLength="4.90" lengthAdjust="spacingAndGlyphs">e</tspan><tspan x="174.50" textLength="2.31" lengthAdjust="spacingAndGlyphs">l</tspan><tspan x="176.81" textLength="2.31" lengthAdjust="spacingAndGlyphs">l</tspan><tspan x="179.12" textLength="3.88" lengthAdjust="spacingAndGlyphs">s</tspan></text>
<path d="M421.3,338.8 V260.5 H465.0 V264.6" stroke="#1c1c1c" stroke-width="0.9" fill="none"/>
<circle cx="442.9" cy="256.5" r="1.05" fill="#2a2a2a"/>
<text transform="translate(152.00,247.00)" y="0" font-size="11.2" fill="#1a1a1a" stroke="#1a1a1a" stroke-width="0.08"><tspan x="0.00" textLength="5.89" lengthAdjust="spacingAndGlyphs">E</tspan></text>
<text transform="translate(210.70,288.70)" y="0" font-size="9.9" fill="#1a1a1a" stroke="#1a1a1a" stroke-width="0.06"><tspan x="0.00" textLength="5.46" lengthAdjust="spacingAndGlyphs">g</tspan><tspan x="5.46" textLength="2.30" lengthAdjust="spacingAndGlyphs">l</tspan><tspan x="7.76" textLength="5.38" lengthAdjust="spacingAndGlyphs">u</tspan><tspan x="13.14" textLength="3.23" lengthAdjust="spacingAndGlyphs">t</tspan><tspan x="16.37" textLength="4.71" lengthAdjust="spacingAndGlyphs">a</tspan><tspan x="21.08" textLength="3.23" lengthAdjust="spacingAndGlyphs">t</tspan><tspan x="24.31" textLength="5.42" lengthAdjust="spacingAndGlyphs">h</tspan><tspan x="29.72" textLength="2.28" lengthAdjust="spacingAndGlyphs">i</tspan><tspan x="32.01" textLength="5.36" lengthAdjust="spacingAndGlyphs">o</tspan><tspan x="37.37" textLength="5.42" lengthAdjust="spacingAndGlyphs">n</tspan><tspan x="42.79" textLength="4.89" lengthAdjust="spacingAndGlyphs">e</tspan><tspan x="47.68" textLength="2.02" lengthAdjust="spacingAndGlyphs">,</tspan><tspan x="51.77" textLength="3.19" lengthAdjust="spacingAndGlyphs">r</tspan><tspan x="54.96" textLength="4.89" lengthAdjust="spacingAndGlyphs">e</tspan><tspan x="59.85" textLength="5.51" lengthAdjust="spacingAndGlyphs">d</tspan><tspan x="65.35" textLength="5.38" lengthAdjust="spacingAndGlyphs">u</tspan><tspan x="70.73" textLength="4.37" lengthAdjust="spacingAndGlyphs">c</tspan><tspan x="75.11" textLength="4.89" lengthAdjust="spacingAndGlyphs">e</tspan><tspan x="80.00" textLength="5.51" lengthAdjust="spacingAndGlyphs">d</tspan><tspan x="87.57" textLength="2.77" lengthAdjust="spacingAndGlyphs">(</tspan><tspan x="90.34" textLength="6.31" lengthAdjust="spacingAndGlyphs">G</tspan><tspan x="96.65" textLength="4.81" lengthAdjust="spacingAndGlyphs">S</tspan><tspan x="101.46" textLength="6.36" lengthAdjust="spacingAndGlyphs">H</tspan><tspan x="107.83" textLength="2.77" lengthAdjust="spacingAndGlyphs">)</tspan></text>
<rect x="184.7" y="294.4" width="162.7" height="74.3" fill="none" stroke="#111" stroke-width="1.4"/>
<line x1="266.0" y1="294.4" x2="266.0" y2="368.7" stroke="#111" stroke-width="1.4"/>
<line x1="181.6" y1="368.7" x2="184.7" y2="368.7" stroke="#111" stroke-width="1.1"/>
<text transform="translate(168.11,371.50)" y="0" font-size="7.9" fill="#111" stroke="#111" stroke-width="0.12"><tspan x="0.00" textLength="4.49" lengthAdjust="spacingAndGlyphs">0</tspan><tspan x="4.49" textLength="1.81" lengthAdjust="spacingAndGlyphs">.</tspan><tspan x="6.30" textLength="4.49" lengthAdjust="spacingAndGlyphs">4</tspan></text>
<line x1="181.6" y1="359.41" x2="184.7" y2="359.41" stroke="#111" stroke-width="1.1"/>
<text transform="translate(168.11,362.21)" y="0" font-size="7.9" fill="#111" stroke="#111" stroke-width="0.12"><tspan x="0.00" textLength="4.49" lengthAdjust="spacingAndGlyphs">0</tspan><tspan x="4.49" textLength="1.81" lengthAdjust="spacingAndGlyphs">.</tspan><tspan x="6.30" textLength="4.49" lengthAdjust="spacingAndGlyphs">6</tspan></text>
<line x1="181.6" y1="350.12" x2="184.7" y2="350.12" stroke="#111" stroke-width="1.1"/>
<text transform="translate(168.11,352.92)" y="0" font-size="7.9" fill="#111" stroke="#111" stroke-width="0.12"><tspan x="0.00" textLength="4.49" lengthAdjust="spacingAndGlyphs">0</tspan><tspan x="4.49" textLength="1.81" lengthAdjust="spacingAndGlyphs">.</tspan><tspan x="6.30" textLength="4.49" lengthAdjust="spacingAndGlyphs">8</tspan></text>
<line x1="181.6" y1="340.84" x2="184.7" y2="340.84" stroke="#111" stroke-width="1.1"/>
<text transform="translate(168.11,343.64)" y="0" font-size="7.9" fill="#111" stroke="#111" stroke-width="0.12"><tspan x="0.00" textLength="4.49" lengthAdjust="spacingAndGlyphs">1</tspan><tspan x="4.49" textLength="1.81" lengthAdjust="spacingAndGlyphs">.</tspan><tspan x="6.30" textLength="4.49" lengthAdjust="spacingAndGlyphs">0</tspan></text>
<line x1="181.6" y1="331.55" x2="184.7" y2="331.55" stroke="#111" stroke-width="1.1"/>
<text transform="translate(168.11,334.35)" y="0" font-size="7.9" fill="#111" stroke="#111" stroke-width="0.12"><tspan x="0.00" textLength="4.49" lengthAdjust="spacingAndGlyphs">1</tspan><tspan x="4.49" textLength="1.81" lengthAdjust="spacingAndGlyphs">.</tspan><tspan x="6.30" textLength="4.49" lengthAdjust="spacingAndGlyphs">2</tspan></text>
<line x1="181.6" y1="322.26" x2="184.7" y2="322.26" stroke="#111" stroke-width="1.1"/>
<text transform="translate(168.11,325.06)" y="0" font-size="7.9" fill="#111" stroke="#111" stroke-width="0.12"><tspan x="0.00" textLength="4.49" lengthAdjust="spacingAndGlyphs">1</tspan><tspan x="4.49" textLength="1.81" lengthAdjust="spacingAndGlyphs">.</tspan><tspan x="6.30" textLength="4.49" lengthAdjust="spacingAndGlyphs">4</tspan></text>
<line x1="181.6" y1="312.97" x2="184.7" y2="312.97" stroke="#111" stroke-width="1.1"/>
<text transform="translate(168.11,315.77)" y="0" font-size="7.9" fill="#111" stroke="#111" stroke-width="0.12"><tspan x="0.00" textLength="4.49" lengthAdjust="spacingAndGlyphs">1</tspan><tspan x="4.49" textLength="1.81" lengthAdjust="spacingAndGlyphs">.</tspan><tspan x="6.30" textLength="4.49" lengthAdjust="spacingAndGlyphs">6</tspan></text>
<line x1="181.6" y1="303.68" x2="184.7" y2="303.68" stroke="#111" stroke-width="1.1"/>
<text transform="translate(168.11,306.48)" y="0" font-size="7.9" fill="#111" stroke="#111" stroke-width="0.12"><tspan x="0.00" textLength="4.49" lengthAdjust="spacingAndGlyphs">1</tspan><tspan x="4.49" textLength="1.81" lengthAdjust="spacingAndGlyphs">.</tspan><tspan x="6.30" textLength="4.49" lengthAdjust="spacingAndGlyphs">8</tspan></text>
<line x1="181.6" y1="294.4" x2="184.7" y2="294.4" stroke="#111" stroke-width="1.1"/>
<text transform="translate(168.11,297.20)" y="0" font-size="7.9" fill="#111" stroke="#111" stroke-width="0.12"><tspan x="0.00" textLength="4.49" lengthAdjust="spacingAndGlyphs">2</tspan><tspan x="4.49" textLength="1.81" lengthAdjust="spacingAndGlyphs">.</tspan><tspan x="6.30" textLength="4.49" lengthAdjust="spacingAndGlyphs">0</tspan></text>
<line x1="198.3" y1="368.7" x2="198.3" y2="371.6" stroke="#111" stroke-width="1.1"/>
<line x1="225.6" y1="368.7" x2="225.6" y2="371.6" stroke="#111" stroke-width="1.1"/>
<line x1="252.5" y1="368.7" x2="252.5" y2="371.6" stroke="#111" stroke-width="1.1"/>
<line x1="281.2" y1="368.7" x2="281.2" y2="371.6" stroke="#111" stroke-width="1.1"/>
<line x1="308.5" y1="368.7" x2="308.5" y2="371.6" stroke="#111" stroke-width="1.1"/>
<line x1="335.4" y1="368.7" x2="335.4" y2="371.6" stroke="#111" stroke-width="1.1"/>
<text transform="translate(190.80,382.80)" y="0" font-size="8.6" fill="#2e2e2e" stroke="#2e2e2e" stroke-width="0.12"><tspan x="0.00" textLength="1.83" lengthAdjust="spacingAndGlyphs">I</tspan><tspan x="1.83" textLength="4.28" lengthAdjust="spacingAndGlyphs">g</tspan><tspan x="6.12" textLength="4.95" lengthAdjust="spacingAndGlyphs">G</tspan><tspan x="11.07" textLength="3.93" lengthAdjust="spacingAndGlyphs">1</tspan></text>
<text transform="translate(216.80,382.80)" y="0" font-size="8.6" fill="#2e2e2e" stroke="#2e2e2e" stroke-width="0.12"><tspan x="0.00" textLength="2.76" lengthAdjust="spacingAndGlyphs">r</tspan><tspan x="2.76" textLength="4.10" lengthAdjust="spacingAndGlyphs">F</tspan><tspan x="6.86" textLength="4.70" lengthAdjust="spacingAndGlyphs">V</tspan><tspan x="11.56" textLength="2.01" lengthAdjust="spacingAndGlyphs">I</tspan><tspan x="13.57" textLength="2.01" lengthAdjust="spacingAndGlyphs">I</tspan><tspan x="15.59" textLength="2.01" lengthAdjust="spacingAndGlyphs">I</tspan></text>
<text transform="translate(240.00,382.80)" y="0" font-size="8.6" fill="#2e2e2e" stroke="#2e2e2e" stroke-width="0.12"><tspan x="0.00" textLength="2.70" lengthAdjust="spacingAndGlyphs">r</tspan><tspan x="2.70" textLength="4.03" lengthAdjust="spacingAndGlyphs">F</tspan><tspan x="6.73" textLength="4.61" lengthAdjust="spacingAndGlyphs">V</tspan><tspan x="11.34" textLength="1.98" lengthAdjust="spacingAndGlyphs">I</tspan><tspan x="13.32" textLength="1.98" lengthAdjust="spacingAndGlyphs">I</tspan><tspan x="15.29" textLength="1.98" lengthAdjust="spacingAndGlyphs">I</tspan><tspan x="17.27" textLength="4.03" lengthAdjust="spacingAndGlyphs">F</tspan><tspan x="21.30" textLength="3.70" lengthAdjust="spacingAndGlyphs">c</tspan></text>
<text transform="translate(273.70,382.80)" y="0" font-size="8.6" fill="#2e2e2e" stroke="#2e2e2e" stroke-width="0.12"><tspan x="0.00" textLength="1.83" lengthAdjust="spacingAndGlyphs">I</tspan><tspan x="1.83" textLength="4.28" lengthAdjust="spacingAndGlyphs">g</tspan><tspan x="6.12" textLength="4.95" lengthAdjust="spacingAndGlyphs">G</tspan><tspan x="11.07" textLength="3.93" lengthAdjust="spacingAndGlyphs">1</tspan></text>
<text transform="translate(299.70,382.80)" y="0" font-size="8.6" fill="#2e2e2e" stroke="#2e2e2e" stroke-width="0.12"><tspan x="0.00" textLength="2.76" lengthAdjust="spacingAndGlyphs">r</tspan><tspan x="2.76" textLength="4.10" lengthAdjust="spacingAndGlyphs">F</tspan><tspan x="6.86" textLength="4.70" lengthAdjust="spacingAndGlyphs">V</tspan><tspan x="11.56" textLength="2.01" lengthAdjust="spacingAndGlyphs">I</tspan><tspan x="13.57" textLength="2.01" lengthAdjust="spacingAndGlyphs">I</tspan><tspan x="15.59" textLength="2.01" lengthAdjust="spacingAndGlyphs">I</tspan></text>
<text transform="translate(322.90,382.80)" y="0" font-size="8.6" fill="#2e2e2e" stroke="#2e2e2e" stroke-width="0.12"><tspan x="0.00" textLength="2.70" lengthAdjust="spacingAndGlyphs">r</tspan><tspan x="2.70" textLength="4.03" lengthAdjust="spacingAndGlyphs">F</tspan><tspan x="6.73" textLength="4.61" lengthAdjust="spacingAndGlyphs">V</tspan><tspan x="11.34" textLength="1.98" lengthAdjust="spacingAndGlyphs">I</tspan><tspan x="13.32" textLength="1.98" lengthAdjust="spacingAndGlyphs">I</tspan><tspan x="15.29" textLength="1.98" lengthAdjust="spacingAndGlyphs">I</tspan><tspan x="17.27" textLength="4.03" lengthAdjust="spacingAndGlyphs">F</tspan><tspan x="21.30" textLength="3.70" lengthAdjust="spacingAndGlyphs">c</tspan></text>
<path d="M199.2,387.40000000000003 Q199.5,389.6 202.2,389.6 H249.1 Q251.79999999999998,389.6 252.1,387.40000000000003" stroke="#231f20" stroke-width="1.2" fill="none"/>
<path d="M283.5,387.40000000000003 Q283.8,389.6 286.5,389.6 H332.4 Q335.09999999999997,389.6 335.4,387.40000000000003" stroke="#231f20" stroke-width="1.2" fill="none"/>
<text transform="translate(220.52,400.20)" y="0" font-size="8.2" fill="#2a2a2a" stroke="#2a2a2a" stroke-width="0.12"><tspan x="0.00" textLength="4.50" lengthAdjust="spacingAndGlyphs">6</tspan><tspan x="4.50" textLength="4.87" lengthAdjust="spacingAndGlyphs">h</tspan></text>
<text transform="translate(302.47,400.20)" y="0" font-size="8.2" fill="#2a2a2a" stroke="#2a2a2a" stroke-width="0.12"><tspan x="0.00" textLength="4.50" lengthAdjust="spacingAndGlyphs">2</tspan><tspan x="4.50" textLength="4.50" lengthAdjust="spacingAndGlyphs">4</tspan><tspan x="9.00" textLength="4.87" lengthAdjust="spacingAndGlyphs">h</tspan></text>
<text transform="translate(161.7,363.8) rotate(-90)" y="0" font-size="9.1" fill="#1a1a1a" stroke="#1a1a1a" stroke-width="0.06"><tspan x="0.00" textLength="4.82" lengthAdjust="spacingAndGlyphs">S</tspan><tspan x="4.82" textLength="4.38" lengthAdjust="spacingAndGlyphs">c</tspan><tspan x="9.20" textLength="4.71" lengthAdjust="spacingAndGlyphs">a</tspan><tspan x="13.92" textLength="2.31" lengthAdjust="spacingAndGlyphs">l</tspan><tspan x="16.22" textLength="4.90" lengthAdjust="spacingAndGlyphs">e</tspan><tspan x="21.12" textLength="5.52" lengthAdjust="spacingAndGlyphs">d</tspan><tspan x="28.71" textLength="2.29" lengthAdjust="spacingAndGlyphs">i</tspan><tspan x="31.00" textLength="5.43" lengthAdjust="spacingAndGlyphs">n</tspan><tspan x="36.43" textLength="3.24" lengthAdjust="spacingAndGlyphs">t</tspan><tspan x="39.67" textLength="4.90" lengthAdjust="spacingAndGlyphs">e</tspan><tspan x="44.57" textLength="5.43" lengthAdjust="spacingAndGlyphs">n</tspan><tspan x="50.00" textLength="3.87" lengthAdjust="spacingAndGlyphs">s</tspan><tspan x="53.87" textLength="2.29" lengthAdjust="spacingAndGlyphs">i</tspan><tspan x="56.16" textLength="3.24" lengthAdjust="spacingAndGlyphs">t</tspan><tspan x="59.39" textLength="4.61" lengthAdjust="spacingAndGlyphs">y</tspan></text>
<line x1="198.15" y1="329.6" x2="198.15" y2="333.5" stroke="#231f20" stroke-width="1.0" stroke-dasharray="1,1"/>
<line x1="198.15" y1="345.0" x2="198.15" y2="349.2" stroke="#231f20" stroke-width="1.0" stroke-dasharray="1,1"/>
<line x1="195.34" y1="329.6" x2="200.96" y2="329.6" stroke="#231f20" stroke-width="1.0"/>
<line x1="195.34" y1="349.2" x2="200.96" y2="349.2" stroke="#231f20" stroke-width="1.0"/>
<rect x="191.9" y="333.5" width="12.5" height="11.5" fill="#3a6650" stroke="#2a2a35" stroke-width="0.5"/>
<line x1="191.9" y1="338.8" x2="204.4" y2="338.8" stroke="#111" stroke-width="1.4"/>
<line x1="196.35" y1="338.4" x2="199.95" y2="338.4" stroke="#111" stroke-width="1.0"/>
<line x1="198.15" y1="336.6" x2="198.15" y2="340.2" stroke="#111" stroke-width="1.0"/>
<line x1="225.65" y1="341.2" x2="225.65" y2="344.0" stroke="#231f20" stroke-width="1.0" stroke-dasharray="1,1"/>
<line x1="225.65" y1="351.7" x2="225.65" y2="356.2" stroke="#231f20" stroke-width="1.0" stroke-dasharray="1,1"/>
<line x1="222.84" y1="341.2" x2="228.46" y2="341.2" stroke="#231f20" stroke-width="1.0"/>
<line x1="222.84" y1="356.2" x2="228.46" y2="356.2" stroke="#231f20" stroke-width="1.0"/>
<rect x="219.4" y="344.0" width="12.5" height="7.699999999999989" fill="#8c86bb" stroke="#2a2a35" stroke-width="0.5"/>
<line x1="219.4" y1="346.9" x2="231.9" y2="346.9" stroke="#111" stroke-width="1.4"/>
<line x1="223.85" y1="347.6" x2="227.45" y2="347.6" stroke="#111" stroke-width="1.0"/>
<line x1="225.65" y1="345.8" x2="225.65" y2="349.4" stroke="#111" stroke-width="1.0"/>
<line x1="252.55" y1="333.8" x2="252.55" y2="334.4" stroke="#231f20" stroke-width="1.0" stroke-dasharray="1,1"/>
<line x1="252.55" y1="350.8" x2="252.55" y2="359.8" stroke="#231f20" stroke-width="1.0" stroke-dasharray="1,1"/>
<line x1="249.74" y1="333.8" x2="255.36" y2="333.8" stroke="#231f20" stroke-width="1.0"/>
<line x1="249.74" y1="359.8" x2="255.36" y2="359.8" stroke="#231f20" stroke-width="1.0"/>
<rect x="246.3" y="334.4" width="12.5" height="16.400000000000034" fill="#505668" stroke="#2a2a35" stroke-width="0.5"/>
<line x1="246.3" y1="338.8" x2="258.8" y2="338.8" stroke="#111" stroke-width="1.4"/>
<line x1="250.75" y1="343.1" x2="254.35" y2="343.1" stroke="#111" stroke-width="1.0"/>
<line x1="252.55" y1="341.3" x2="252.55" y2="344.9" stroke="#111" stroke-width="1.0"/>
<line x1="280.95" y1="312.3" x2="280.95" y2="323.8" stroke="#231f20" stroke-width="1.0" stroke-dasharray="1,1"/>
<line x1="280.95" y1="348.7" x2="280.95" y2="356.9" stroke="#231f20" stroke-width="1.0" stroke-dasharray="1,1"/>
<line x1="278.27" y1="312.3" x2="283.63" y2="312.3" stroke="#231f20" stroke-width="1.0"/>
<line x1="278.27" y1="356.9" x2="283.63" y2="356.9" stroke="#231f20" stroke-width="1.0"/>
<rect x="275.0" y="323.8" width="11.899999999999977" height="24.899999999999977" fill="#3a6650" stroke="#2a2a35" stroke-width="0.5"/>
<line x1="275.0" y1="338.1" x2="286.9" y2="338.1" stroke="#111" stroke-width="1.4"/>
<line x1="279.15" y1="336.3" x2="282.75" y2="336.3" stroke="#111" stroke-width="1.0"/>
<line x1="280.95" y1="334.5" x2="280.95" y2="338.1" stroke="#111" stroke-width="1.0"/>
<line x1="308.35" y1="321.9" x2="308.35" y2="328.1" stroke="#231f20" stroke-width="1.0" stroke-dasharray="1,1"/>
<line x1="308.35" y1="353.7" x2="308.35" y2="359.2" stroke="#231f20" stroke-width="1.0" stroke-dasharray="1,1"/>
<line x1="305.63" y1="321.9" x2="311.07" y2="321.9" stroke="#231f20" stroke-width="1.0"/>
<line x1="305.63" y1="359.2" x2="311.07" y2="359.2" stroke="#231f20" stroke-width="1.0"/>
<rect x="302.3" y="328.1" width="12.099999999999966" height="25.599999999999966" fill="#8c86bb" stroke="#2a2a35" stroke-width="0.5"/>
<line x1="302.3" y1="341.5" x2="314.4" y2="341.5" stroke="#111" stroke-width="1.4"/>
<line x1="306.55" y1="341.0" x2="310.15" y2="341.0" stroke="#111" stroke-width="1.0"/>
<line x1="308.35" y1="339.2" x2="308.35" y2="342.8" stroke="#111" stroke-width="1.0"/>
<line x1="335.25" y1="298.8" x2="335.25" y2="311.2" stroke="#231f20" stroke-width="1.0" stroke-dasharray="1,1"/>
<line x1="335.25" y1="332.9" x2="335.25" y2="340.6" stroke="#231f20" stroke-width="1.0" stroke-dasharray="1,1"/>
<line x1="332.53" y1="298.8" x2="337.97" y2="298.8" stroke="#231f20" stroke-width="1.0"/>
<line x1="332.53" y1="340.6" x2="337.97" y2="340.6" stroke="#231f20" stroke-width="1.0"/>
<rect x="329.2" y="311.2" width="12.100000000000023" height="21.69999999999999" fill="#505668" stroke="#2a2a35" stroke-width="0.5"/>
<line x1="329.2" y1="324.6" x2="341.3" y2="324.6" stroke="#111" stroke-width="1.4"/>
<line x1="333.45" y1="321.9" x2="337.05" y2="321.9" stroke="#111" stroke-width="1.0"/>
<line x1="335.25" y1="320.1" x2="335.25" y2="323.7" stroke="#111" stroke-width="1.0"/>
<text transform="translate(8.60,444.20)" y="0" font-size="11.2" fill="#1a1a1a" stroke="#1a1a1a" stroke-width="0.08"><tspan x="0.00" textLength="7.74" lengthAdjust="spacingAndGlyphs">G</tspan></text>
<text transform="translate(38.70,471.30)" y="0" font-size="9.5" fill="#1a1a1a" stroke="#1a1a1a" stroke-width="0.06"><tspan x="0.00" textLength="5.02" lengthAdjust="spacingAndGlyphs">1</tspan><tspan x="5.02" textLength="5.02" lengthAdjust="spacingAndGlyphs">3</tspan><tspan x="10.04" textLength="3.00" lengthAdjust="spacingAndGlyphs">-</tspan><tspan x="13.04" textLength="6.38" lengthAdjust="spacingAndGlyphs">H</tspan><tspan x="19.42" textLength="6.74" lengthAdjust="spacingAndGlyphs">O</tspan><tspan x="26.16" textLength="6.52" lengthAdjust="spacingAndGlyphs">D</tspan><tspan x="32.68" textLength="4.81" lengthAdjust="spacingAndGlyphs">E</tspan><tspan x="37.49" textLength="5.83" lengthAdjust="spacingAndGlyphs">+</tspan><tspan x="43.33" textLength="5.02" lengthAdjust="spacingAndGlyphs">9</tspan><tspan x="48.34" textLength="3.00" lengthAdjust="spacingAndGlyphs">-</tspan><tspan x="51.35" textLength="6.38" lengthAdjust="spacingAndGlyphs">H</tspan><tspan x="57.73" textLength="6.74" lengthAdjust="spacingAndGlyphs">O</tspan><tspan x="64.47" textLength="6.52" lengthAdjust="spacingAndGlyphs">D</tspan><tspan x="70.99" textLength="4.81" lengthAdjust="spacingAndGlyphs">E</tspan></text>
<rect x="32.5" y="476.4" width="88.1" height="84.4" fill="none" stroke="#111" stroke-width="1.4"/>
<line x1="29.4" y1="560.8" x2="32.5" y2="560.8" stroke="#111" stroke-width="1.1"/>
<text transform="translate(22.24,563.60)" y="0" font-size="7.7" fill="#111" stroke="#111" stroke-width="0.12"><tspan x="0.00" textLength="4.26" lengthAdjust="spacingAndGlyphs">0</tspan></text>
<line x1="29.4" y1="543.88" x2="32.5" y2="543.88" stroke="#111" stroke-width="1.1"/>
<text transform="translate(22.24,546.68)" y="0" font-size="7.7" fill="#111" stroke="#111" stroke-width="0.12"><tspan x="0.00" textLength="4.26" lengthAdjust="spacingAndGlyphs">1</tspan></text>
<line x1="29.4" y1="526.96" x2="32.5" y2="526.96" stroke="#111" stroke-width="1.1"/>
<text transform="translate(22.24,529.76)" y="0" font-size="7.7" fill="#111" stroke="#111" stroke-width="0.12"><tspan x="0.00" textLength="4.26" lengthAdjust="spacingAndGlyphs">2</tspan></text>
<line x1="29.4" y1="510.04" x2="32.5" y2="510.04" stroke="#111" stroke-width="1.1"/>
<text transform="translate(22.24,512.84)" y="0" font-size="7.7" fill="#111" stroke="#111" stroke-width="0.12"><tspan x="0.00" textLength="4.26" lengthAdjust="spacingAndGlyphs">3</tspan></text>
<line x1="29.4" y1="493.12" x2="32.5" y2="493.12" stroke="#111" stroke-width="1.1"/>
<text transform="translate(22.24,495.92)" y="0" font-size="7.7" fill="#111" stroke="#111" stroke-width="0.12"><tspan x="0.00" textLength="4.26" lengthAdjust="spacingAndGlyphs">4</tspan></text>
<line x1="29.4" y1="476.2" x2="32.5" y2="476.2" stroke="#111" stroke-width="1.1"/>
<text transform="translate(22.24,479.00)" y="0" font-size="7.7" fill="#111" stroke="#111" stroke-width="0.12"><tspan x="0.00" textLength="4.26" lengthAdjust="spacingAndGlyphs">5</tspan></text>
<line x1="47.1" y1="560.8" x2="47.1" y2="563.8" stroke="#111" stroke-width="1.1"/>
<line x1="76.5" y1="560.8" x2="76.5" y2="563.8" stroke="#111" stroke-width="1.1"/>
<line x1="106.2" y1="560.8" x2="106.2" y2="563.8" stroke="#111" stroke-width="1.1"/>
<text transform="translate(39.40,574.60)" y="0" font-size="8.2" fill="#2e2e2e" stroke="#2e2e2e" stroke-width="0.12"><tspan x="0.00" textLength="1.88" lengthAdjust="spacingAndGlyphs">I</tspan><tspan x="1.88" textLength="4.40" lengthAdjust="spacingAndGlyphs">g</tspan><tspan x="6.28" textLength="5.08" lengthAdjust="spacingAndGlyphs">G</tspan><tspan x="11.36" textLength="4.04" lengthAdjust="spacingAndGlyphs">1</tspan></text>
<text transform="translate(67.75,574.60)" y="0" font-size="8.2" fill="#2e2e2e" stroke="#2e2e2e" stroke-width="0.12"><tspan x="0.00" textLength="2.71" lengthAdjust="spacingAndGlyphs">r</tspan><tspan x="2.71" textLength="4.03" lengthAdjust="spacingAndGlyphs">F</tspan><tspan x="6.74" textLength="4.62" lengthAdjust="spacingAndGlyphs">V</tspan><tspan x="11.36" textLength="1.98" lengthAdjust="spacingAndGlyphs">I</tspan><tspan x="13.34" textLength="1.98" lengthAdjust="spacingAndGlyphs">I</tspan><tspan x="15.32" textLength="1.98" lengthAdjust="spacingAndGlyphs">I</tspan></text>
<text transform="translate(93.80,574.60)" y="0" font-size="8.2" fill="#2e2e2e" stroke="#2e2e2e" stroke-width="0.12"><tspan x="0.00" textLength="2.68" lengthAdjust="spacingAndGlyphs">r</tspan><tspan x="2.68" textLength="3.99" lengthAdjust="spacingAndGlyphs">F</tspan><tspan x="6.68" textLength="4.58" lengthAdjust="spacingAndGlyphs">V</tspan><tspan x="11.25" textLength="1.96" lengthAdjust="spacingAndGlyphs">I</tspan><tspan x="13.21" textLength="1.96" lengthAdjust="spacingAndGlyphs">I</tspan><tspan x="15.17" textLength="1.96" lengthAdjust="spacingAndGlyphs">I</tspan><tspan x="17.13" textLength="3.99" lengthAdjust="spacingAndGlyphs">F</tspan><tspan x="21.13" textLength="3.67" lengthAdjust="spacingAndGlyphs">c</tspan></text>
<path d="M47.7,580.0999999999999 Q48.0,582.3 50.7,582.3 H102.4 Q105.10000000000001,582.3 105.4,580.0999999999999" stroke="#231f20" stroke-width="1.2" fill="none"/>
<text transform="translate(71.80,591.90)" y="0" font-size="8.4" fill="#2a2a2a" stroke="#2a2a2a" stroke-width="0.15"><tspan x="0.00" textLength="4.61" lengthAdjust="spacingAndGlyphs">6</tspan><tspan x="4.61" textLength="4.99" lengthAdjust="spacingAndGlyphs">h</tspan></text>
<text transform="translate(16.1,551.0) rotate(-90)" y="0" font-size="9.1" fill="#1a1a1a" stroke="#1a1a1a" stroke-width="0.06"><tspan x="0.00" textLength="4.85" lengthAdjust="spacingAndGlyphs">S</tspan><tspan x="4.85" textLength="4.41" lengthAdjust="spacingAndGlyphs">c</tspan><tspan x="9.26" textLength="4.74" lengthAdjust="spacingAndGlyphs">a</tspan><tspan x="14.00" textLength="2.32" lengthAdjust="spacingAndGlyphs">l</tspan><tspan x="16.33" textLength="4.93" lengthAdjust="spacingAndGlyphs">e</tspan><tspan x="21.26" textLength="5.55" lengthAdjust="spacingAndGlyphs">d</tspan><tspan x="28.89" textLength="2.30" lengthAdjust="spacingAndGlyphs">i</tspan><tspan x="31.20" textLength="5.46" lengthAdjust="spacingAndGlyphs">n</tspan><tspan x="36.66" textLength="3.26" lengthAdjust="spacingAndGlyphs">t</tspan><tspan x="39.92" textLength="4.93" lengthAdjust="spacingAndGlyphs">e</tspan><tspan x="44.85" textLength="5.46" lengthAdjust="spacingAndGlyphs">n</tspan><tspan x="50.31" textLength="3.90" lengthAdjust="spacingAndGlyphs">s</tspan><tspan x="54.20" textLength="2.30" lengthAdjust="spacingAndGlyphs">i</tspan><tspan x="56.51" textLength="3.26" lengthAdjust="spacingAndGlyphs">t</tspan><tspan x="59.76" textLength="4.64" lengthAdjust="spacingAndGlyphs">y</tspan></text>
<line x1="47.4" y1="542.9" x2="47.4" y2="543.8" stroke="#231f20" stroke-width="1.0" stroke-dasharray="1,1"/>
<line x1="47.4" y1="547.7" x2="47.4" y2="548.1" stroke="#231f20" stroke-width="1.0" stroke-dasharray="1,1"/>
<line x1="44.07" y1="542.9" x2="50.73" y2="542.9" stroke="#231f20" stroke-width="1.0"/>
<line x1="44.07" y1="548.1" x2="50.73" y2="548.1" stroke="#231f20" stroke-width="1.0"/>
<rect x="40.0" y="543.8" width="14.799999999999997" height="3.900000000000091" fill="#3a6650" stroke="#2a2a35" stroke-width="0.5"/>
<line x1="40.0" y1="545.8" x2="54.8" y2="545.8" stroke="#111" stroke-width="1.4"/>
<line x1="45.6" y1="545.4" x2="49.2" y2="545.4" stroke="#111" stroke-width="1.0"/>
<line x1="47.4" y1="543.6" x2="47.4" y2="547.2" stroke="#111" stroke-width="1.0"/>
<line x1="76.6" y1="546.3" x2="76.6" y2="548.1" stroke="#231f20" stroke-width="1.0" stroke-dasharray="1,1"/>
<line x1="76.6" y1="552.5" x2="76.6" y2="554.4" stroke="#231f20" stroke-width="1.0" stroke-dasharray="1,1"/>
<line x1="73.27" y1="546.3" x2="79.93" y2="546.3" stroke="#231f20" stroke-width="1.0"/>
<line x1="73.27" y1="554.4" x2="79.93" y2="554.4" stroke="#231f20" stroke-width="1.0"/>
<rect x="69.2" y="548.1" width="14.799999999999997" height="4.399999999999977" fill="#8c86bb" stroke="#2a2a35" stroke-width="0.5"/>
<line x1="69.2" y1="550.4" x2="84.0" y2="550.4" stroke="#111" stroke-width="1.4"/>
<line x1="74.8" y1="550.0" x2="78.4" y2="550.0" stroke="#111" stroke-width="1.0"/>
<line x1="76.6" y1="548.2" x2="76.6" y2="551.8" stroke="#111" stroke-width="1.0"/>
<line x1="106.35" y1="516.7" x2="106.35" y2="525.0" stroke="#231f20" stroke-width="1.0" stroke-dasharray="1,1"/>
<line x1="106.35" y1="550.4" x2="106.35" y2="551.5" stroke="#231f20" stroke-width="1.0" stroke-dasharray="1,1"/>
<line x1="103.04" y1="516.7" x2="109.66" y2="516.7" stroke="#231f20" stroke-width="1.0"/>
<line x1="103.04" y1="551.5" x2="109.66" y2="551.5" stroke="#231f20" stroke-width="1.0"/>
<rect x="99.0" y="525.0" width="14.700000000000003" height="25.399999999999977" fill="#505668" stroke="#2a2a35" stroke-width="0.5"/>
<line x1="99.0" y1="541.3" x2="113.7" y2="541.3" stroke="#111" stroke-width="1.4"/>
<line x1="104.55" y1="537.9" x2="108.15" y2="537.9" stroke="#111" stroke-width="1.0"/>
<line x1="106.35" y1="536.1" x2="106.35" y2="539.7" stroke="#111" stroke-width="1.0"/>
<text transform="translate(151.20,444.20)" y="0" font-size="11.2" fill="#1a1a1a" stroke="#1a1a1a" stroke-width="0.08"><tspan x="0.00" textLength="7.81" lengthAdjust="spacingAndGlyphs">H</tspan></text>
<text transform="translate(226.25,450.80)" y="0" font-size="8.2" fill="#2a2a2a" stroke="#2a2a2a" stroke-width="0.1"><tspan x="0.00" textLength="2.65" lengthAdjust="spacingAndGlyphs">r</tspan><tspan x="2.65" textLength="3.95" lengthAdjust="spacingAndGlyphs">F</tspan><tspan x="6.59" textLength="4.52" lengthAdjust="spacingAndGlyphs">V</tspan><tspan x="11.12" textLength="1.94" lengthAdjust="spacingAndGlyphs">I</tspan><tspan x="13.05" textLength="1.94" lengthAdjust="spacingAndGlyphs">I</tspan><tspan x="14.99" textLength="1.94" lengthAdjust="spacingAndGlyphs">I</tspan><tspan x="16.92" textLength="3.95" lengthAdjust="spacingAndGlyphs">F</tspan><tspan x="20.87" textLength="3.63" lengthAdjust="spacingAndGlyphs">c</tspan></text>
<line x1="238.4" y1="454.8" x2="238.4" y2="464.3" stroke="#111" stroke-width="1.15"/>
<path d="M238.40,470.30 L235.00,462.30 L238.40,464.00 L241.80,462.30 Z" fill="#111"/>
<text transform="translate(225.20,512.80)" y="0" font-size="8.2" fill="#2a2a2a" stroke="#2a2a2a" stroke-width="0.1"><tspan x="0.00" textLength="4.66" lengthAdjust="spacingAndGlyphs">g</tspan><tspan x="4.66" textLength="1.97" lengthAdjust="spacingAndGlyphs">l</tspan><tspan x="6.62" textLength="4.59" lengthAdjust="spacingAndGlyphs">u</tspan><tspan x="11.22" textLength="3.73" lengthAdjust="spacingAndGlyphs">c</tspan><tspan x="14.95" textLength="4.57" lengthAdjust="spacingAndGlyphs">o</tspan><tspan x="19.52" textLength="3.30" lengthAdjust="spacingAndGlyphs">s</tspan><tspan x="22.82" textLength="4.17" lengthAdjust="spacingAndGlyphs">e</tspan></text>
<line x1="238.4" y1="518.1" x2="238.4" y2="527.2" stroke="#111" stroke-width="1.15"/>
<path d="M238.40,533.20 L235.00,525.20 L238.40,526.90 L241.80,525.20 Z" fill="#111"/>
<text transform="translate(223.60,543.50)" y="0" font-size="8.2" fill="#2a2a2a" stroke="#2a2a2a" stroke-width="0.1"><tspan x="0.00" textLength="4.69" lengthAdjust="spacingAndGlyphs">p</tspan><tspan x="4.69" textLength="3.88" lengthAdjust="spacingAndGlyphs">y</tspan><tspan x="8.57" textLength="2.69" lengthAdjust="spacingAndGlyphs">r</tspan><tspan x="11.27" textLength="4.54" lengthAdjust="spacingAndGlyphs">u</tspan><tspan x="15.81" textLength="3.96" lengthAdjust="spacingAndGlyphs">v</tspan><tspan x="19.77" textLength="3.97" lengthAdjust="spacingAndGlyphs">a</tspan><tspan x="23.74" textLength="2.73" lengthAdjust="spacingAndGlyphs">t</tspan><tspan x="26.47" textLength="4.13" lengthAdjust="spacingAndGlyphs">e</tspan></text>
<line x1="238.4" y1="548.3" x2="238.4" y2="558.4" stroke="#111" stroke-width="1.15"/>
<path d="M238.40,564.40 L235.00,556.40 L238.40,558.10 L241.80,556.40 Z" fill="#111"/>
<text transform="translate(219.75,575.00)" y="0" font-size="8.2" fill="#2a2a2a" stroke="#2a2a2a" stroke-width="0.1"><tspan x="0.00" textLength="4.00" lengthAdjust="spacingAndGlyphs">a</tspan><tspan x="4.00" textLength="3.72" lengthAdjust="spacingAndGlyphs">c</tspan><tspan x="7.72" textLength="4.16" lengthAdjust="spacingAndGlyphs">e</tspan><tspan x="11.88" textLength="2.75" lengthAdjust="spacingAndGlyphs">t</tspan><tspan x="14.63" textLength="3.91" lengthAdjust="spacingAndGlyphs">y</tspan><tspan x="18.54" textLength="1.96" lengthAdjust="spacingAndGlyphs">l</tspan><tspan x="20.50" textLength="2.55" lengthAdjust="spacingAndGlyphs">-</tspan><tspan x="23.05" textLength="4.82" lengthAdjust="spacingAndGlyphs">C</tspan><tspan x="27.86" textLength="4.56" lengthAdjust="spacingAndGlyphs">o</tspan><tspan x="32.42" textLength="5.08" lengthAdjust="spacingAndGlyphs">A</tspan></text>
<line x1="280.2" y1="572.0" x2="270.0" y2="572.0" stroke="#111" stroke-width="1.15"/>
<path d="M264.00,572.00 L272.00,568.60 L270.30,572.00 L272.00,575.40 Z" fill="#111"/>
<text transform="translate(283.70,575.00)" y="0" font-size="8.2" fill="#2a2a2a" stroke="#2a2a2a" stroke-width="0.1"><tspan x="0.00" textLength="3.87" lengthAdjust="spacingAndGlyphs">F</tspan><tspan x="3.87" textLength="4.86" lengthAdjust="spacingAndGlyphs">A</tspan><tspan x="8.73" textLength="5.47" lengthAdjust="spacingAndGlyphs">O</tspan></text>
<line x1="238.4" y1="579.8" x2="238.4" y2="589.4" stroke="#111" stroke-width="1.15"/>
<path d="M238.40,595.40 L235.00,587.40 L238.40,589.10 L241.80,587.40 Z" fill="#111"/>
<circle cx="239.5" cy="626.5" r="27.4" fill="none" stroke="#111" stroke-width="1.2"/>
<text transform="translate(232.85,629.20)" y="0" font-size="8.2" fill="#2a2a2a" stroke="#2a2a2a" stroke-width="0.1"><tspan x="0.00" textLength="3.97" lengthAdjust="spacingAndGlyphs">T</tspan><tspan x="3.97" textLength="4.64" lengthAdjust="spacingAndGlyphs">C</tspan><tspan x="8.61" textLength="4.89" lengthAdjust="spacingAndGlyphs">A</tspan></text>
<line x1="206.0" y1="625.8" x2="196.6" y2="625.8" stroke="#111" stroke-width="1.15"/>
<path d="M190.60,625.80 L198.60,622.40 L196.90,625.80 L198.60,629.20 Z" fill="#111"/>
<text transform="translate(151.30,629.20)" y="0" font-size="8.2" fill="#2a2a2a" stroke="#2a2a2a" stroke-width="0.1"><tspan x="0.00" textLength="5.62" lengthAdjust="spacingAndGlyphs">O</tspan><tspan x="5.62" textLength="4.66" lengthAdjust="spacingAndGlyphs">X</tspan><tspan x="10.29" textLength="4.34" lengthAdjust="spacingAndGlyphs">P</tspan><tspan x="14.63" textLength="5.32" lengthAdjust="spacingAndGlyphs">H</tspan><tspan x="19.95" textLength="5.62" lengthAdjust="spacingAndGlyphs">O</tspan><tspan x="25.58" textLength="4.02" lengthAdjust="spacingAndGlyphs">S</tspan></text>
<line x1="166.1" y1="637.1" x2="166.1" y2="646.5" stroke="#111" stroke-width="1.15"/>
<path d="M166.10,652.50 L162.70,644.50 L166.10,646.20 L169.50,644.50 Z" fill="#111"/>
<text transform="translate(160.15,667.30)" y="0" font-size="8.2" fill="#2a2a2a" stroke="#2a2a2a" stroke-width="0.1"><tspan x="0.00" textLength="4.51" lengthAdjust="spacingAndGlyphs">A</tspan><tspan x="4.51" textLength="3.66" lengthAdjust="spacingAndGlyphs">T</tspan><tspan x="8.18" textLength="3.92" lengthAdjust="spacingAndGlyphs">P</tspan></text>
<line x1="272.9" y1="625.8" x2="283.1" y2="625.8" stroke="#111" stroke-width="1.15"/>
<path d="M289.10,625.80 L281.10,629.20 L282.80,625.80 L281.10,622.40 Z" fill="#111"/>
<text transform="translate(292.75,629.20)" y="0" font-size="8.2" fill="#2a2a2a" stroke="#2a2a2a" stroke-width="0.1"><tspan x="0.00" textLength="4.56" lengthAdjust="spacingAndGlyphs">g</tspan><tspan x="4.56" textLength="1.92" lengthAdjust="spacingAndGlyphs">l</tspan><tspan x="6.48" textLength="4.49" lengthAdjust="spacingAndGlyphs">u</tspan><tspan x="10.97" textLength="2.70" lengthAdjust="spacingAndGlyphs">t</tspan><tspan x="13.67" textLength="3.93" lengthAdjust="spacingAndGlyphs">a</tspan><tspan x="17.59" textLength="6.80" lengthAdjust="spacingAndGlyphs">m</tspan><tspan x="24.39" textLength="3.93" lengthAdjust="spacingAndGlyphs">a</tspan><tspan x="28.32" textLength="2.70" lengthAdjust="spacingAndGlyphs">t</tspan><tspan x="31.02" textLength="4.08" lengthAdjust="spacingAndGlyphs">e</tspan></text>
<line x1="336.7" y1="625.8" x2="353.6" y2="625.8" stroke="#111" stroke-width="1.15"/>
<path d="M359.60,625.80 L351.60,629.20 L353.30,625.80 L351.60,622.40 Z" fill="#111"/>
<text transform="translate(364.55,629.20)" y="0" font-size="8.2" fill="#2a2a2a" stroke="#2a2a2a" stroke-width="0.1"><tspan x="0.00" textLength="5.23" lengthAdjust="spacingAndGlyphs">G</tspan><tspan x="5.23" textLength="3.99" lengthAdjust="spacingAndGlyphs">S</tspan><tspan x="9.22" textLength="5.28" lengthAdjust="spacingAndGlyphs">H</tspan></text>
<line x1="371.2" y1="637.1" x2="371.2" y2="657.2" stroke="#111" stroke-width="1.15"/>
<path d="M371.20,663.20 L367.80,655.20 L371.20,656.90 L374.60,655.20 Z" fill="#111"/>
<text transform="translate(318.65,645.80)" y="0" font-size="8.2" fill="#2a2a2a" stroke="#2a2a2a" stroke-width="0.1"><tspan x="0.00" textLength="5.34" lengthAdjust="spacingAndGlyphs">N</tspan><tspan x="5.34" textLength="4.96" lengthAdjust="spacingAndGlyphs">A</tspan><tspan x="10.30" textLength="5.40" lengthAdjust="spacingAndGlyphs">D</tspan><tspan x="15.70" textLength="4.31" lengthAdjust="spacingAndGlyphs">P</tspan><tspan x="20.01" textLength="5.29" lengthAdjust="spacingAndGlyphs">H</tspan></text>
<text transform="translate(320.60,662.00)" y="0" font-size="8.2" fill="#2a2a2a" stroke="#2a2a2a" stroke-width="0.1"><tspan x="0.00" textLength="5.65" lengthAdjust="spacingAndGlyphs">N</tspan><tspan x="5.65" textLength="5.26" lengthAdjust="spacingAndGlyphs">A</tspan><tspan x="10.91" textLength="5.72" lengthAdjust="spacingAndGlyphs">D</tspan><tspan x="16.63" textLength="4.57" lengthAdjust="spacingAndGlyphs">P</tspan></text>
<text transform="translate(341.90,658.30)" y="0" font-size="5.2" fill="#2a2a2a" stroke="#2a2a2a" stroke-width="0.05"><tspan x="0.00" textLength="3.31" lengthAdjust="spacingAndGlyphs">+</tspan></text>
<path d="M347.3,642.6 C360,642.2 366.5,647 365.6,652 C364.8,656.5 359,658 352.5,658.3" stroke="#111" stroke-width="1.15" fill="none"/>
<path d="M345.8,658.7 L352.9,655.2 L351.3,658.4 L353.2,661.7 Z" fill="#111"/>
<text transform="translate(357.50,674.90)" y="0" font-size="8.2" fill="#2a2a2a" stroke="#2a2a2a" stroke-width="0.1"><tspan x="0.00" textLength="2.67" lengthAdjust="spacingAndGlyphs">r</tspan><tspan x="2.67" textLength="4.09" lengthAdjust="spacingAndGlyphs">e</tspan><tspan x="6.76" textLength="4.60" lengthAdjust="spacingAndGlyphs">d</tspan><tspan x="11.36" textLength="4.50" lengthAdjust="spacingAndGlyphs">u</tspan><tspan x="15.85" textLength="3.66" lengthAdjust="spacingAndGlyphs">c</tspan><tspan x="19.51" textLength="4.09" lengthAdjust="spacingAndGlyphs">e</tspan><tspan x="23.60" textLength="4.60" lengthAdjust="spacingAndGlyphs">d</tspan></text>
<text transform="translate(364.50,684.80)" y="0" font-size="8.2" fill="#2a2a2a" stroke="#2a2a2a" stroke-width="0.1"><tspan x="0.00" textLength="5.05" lengthAdjust="spacingAndGlyphs">G</tspan><tspan x="5.05" textLength="3.85" lengthAdjust="spacingAndGlyphs">S</tspan><tspan x="8.90" textLength="5.10" lengthAdjust="spacingAndGlyphs">H</tspan></text>
<g transform="translate(208.0,485.9)"><path d="M-7.5,-9 L-7.8,-13 M1,-10 L1.3,-13.8 M6.5,-8.5 L7,-12.8 M-10,-5 L-13.6,-9.6 M-11.5,-1 L-14.5,-3 M-12.5,9.8 L-3,10.4 M-12,12.2 L-0.5,12.8 M1,10.5 L4.5,13.8 M5,10 L10.5,12 M-4,11 L-7,14 M-12,4 L-15.5,5.5 M8,-7 L11.5,-9.5 M9.5,9.5 L14,11 M10,-3 L14.6,-9.2 L17.2,-2 M11,4 L19.5,-4.5 M10,7.5 L16.5,4" stroke="#d4b2da" stroke-width="1.5" stroke-linecap="round" stroke-linejoin="round" fill="none"/><circle cx="-7.8" cy="-13.2" r="1.15" fill="#cca2d4"/><circle cx="1.3" cy="-14" r="1.15" fill="#cca2d4"/><circle cx="7" cy="-13" r="1.15" fill="#cca2d4"/><circle cx="-13.8" cy="-9.8" r="1.15" fill="#cca2d4"/><path d="M-13,-2 C-13.3,-8.5 -8,-11.6 -2,-11.8 C4,-12 10,-9 11.4,-3 C12.6,2 11,8.5 6,11 C1,13.5 -6.5,13 -10.5,9.5 C-13,7 -12.8,3 -13,-2 Z" fill="#e4cfe9"/><ellipse cx="-0.3" cy="0.2" rx="9.0" ry="9.4" fill="#f2e7f4"/><path d="M-6.3,0.5 C-6.7,-4.6 -3.5,-7.2 0.5,-7.0 C3.5,-6.9 4.2,-4.7 5.2,-3.7 C6.5,-2.4 6.6,0.5 6.2,2.5 C5.4,5.9 2.8,7.2 -0.5,7.1 C-4,7.0 -6.1,4.6 -6.3,0.5 Z" fill="#bb88c6" stroke="#995ca7" stroke-width="1.0"/><circle cx="-6" cy="-7.8" r="1.1" fill="#9447a0"/><circle cx="-1" cy="-8.9" r="0.8" fill="#9447a0"/><circle cx="6" cy="-6.8" r="1.1" fill="#9447a0"/><circle cx="7.6" cy="-3.8" r="0.8" fill="#9447a0"/><circle cx="8.2" cy="5" r="1.0" fill="#9447a0"/><circle cx="4.5" cy="8.6" r="1.0" fill="#9447a0"/><circle cx="-1" cy="10" r="0.9" fill="#9447a0"/><circle cx="-8" cy="8.2" r="1.4" fill="#9447a0"/><circle cx="-10.8" cy="-1.5" r="0.9" fill="#9447a0"/><circle cx="9.3" cy="0.8" r="0.7" fill="#9447a0"/></g>
<g transform="translate(237.0,486.5)"><path d="M-7.5,-9 L-7.8,-13 M1,-10 L1.3,-13.8 M6.5,-8.5 L7,-12.8 M-10,-5 L-13.6,-9.6 M-11.5,-1 L-14.5,-3 M-12.5,9.8 L-3,10.4 M-12,12.2 L-0.5,12.8 M1,10.5 L4.5,13.8 M5,10 L10.5,12 M-4,11 L-7,14 M-12,4 L-15.5,5.5 M8,-7 L11.5,-9.5 M9.5,9.5 L14,11 M10,-3 L14.6,-9.2 L17.2,-2 M11,4 L19.5,-4.5 M10,7.5 L16.5,4" stroke="#d4b2da" stroke-width="1.5" stroke-linecap="round" stroke-linejoin="round" fill="none"/><circle cx="-7.8" cy="-13.2" r="1.15" fill="#cca2d4"/><circle cx="1.3" cy="-14" r="1.15" fill="#cca2d4"/><circle cx="7" cy="-13" r="1.15" fill="#cca2d4"/><circle cx="-13.8" cy="-9.8" r="1.15" fill="#cca2d4"/><path d="M-13,-2 C-13.3,-8.5 -8,-11.6 -2,-11.8 C4,-12 10,-9 11.4,-3 C12.6,2 11,8.5 6,11 C1,13.5 -6.5,13 -10.5,9.5 C-13,7 -12.8,3 -13,-2 Z" fill="#e4cfe9"/><ellipse cx="-0.3" cy="0.2" rx="9.0" ry="9.4" fill="#f2e7f4"/><path d="M-6.3,0.5 C-6.7,-4.6 -3.5,-7.2 0.5,-7.0 C3.5,-6.9 4.2,-4.7 5.2,-3.7 C6.5,-2.4 6.6,0.5 6.2,2.5 C5.4,5.9 2.8,7.2 -0.5,7.1 C-4,7.0 -6.1,4.6 -6.3,0.5 Z" fill="#bb88c6" stroke="#995ca7" stroke-width="1.0"/><circle cx="-6" cy="-7.8" r="1.1" fill="#9447a0"/><circle cx="-1" cy="-8.9" r="0.8" fill="#9447a0"/><circle cx="6" cy="-6.8" r="1.1" fill="#9447a0"/><circle cx="7.6" cy="-3.8" r="0.8" fill="#9447a0"/><circle cx="8.2" cy="5" r="1.0" fill="#9447a0"/><circle cx="4.5" cy="8.6" r="1.0" fill="#9447a0"/><circle cx="-1" cy="10" r="0.9" fill="#9447a0"/><circle cx="-8" cy="8.2" r="1.4" fill="#9447a0"/><circle cx="-10.8" cy="-1.5" r="0.9" fill="#9447a0"/><circle cx="9.3" cy="0.8" r="0.7" fill="#9447a0"/></g>
<g transform="translate(266.6,487.3)"><path d="M-7.5,-9 L-7.8,-13 M1,-10 L1.3,-13.8 M6.5,-8.5 L7,-12.8 M-10,-5 L-13.6,-9.6 M-11.5,-1 L-14.5,-3 M-12.5,9.8 L-3,10.4 M-12,12.2 L-0.5,12.8 M1,10.5 L4.5,13.8 M5,10 L10.5,12 M-4,11 L-7,14 M-12,4 L-15.5,5.5 M8,-7 L11.5,-9.5 M9.5,9.5 L14,11 M10,-3 L15.5,-8.5 M11,2 L17,-1.5 M10.5,6 L16.5,3.5 M9,-6 L12.5,-10.5" stroke="#d4b2da" stroke-width="1.5" stroke-linecap="round" stroke-linejoin="round" fill="none"/><circle cx="-7.8" cy="-13.2" r="1.15" fill="#cca2d4"/><circle cx="1.3" cy="-14" r="1.15" fill="#cca2d4"/><circle cx="7" cy="-13" r="1.15" fill="#cca2d4"/><circle cx="-13.8" cy="-9.8" r="1.15" fill="#cca2d4"/><path d="M-13,-2 C-13.3,-8.5 -8,-11.6 -2,-11.8 C4,-12 10,-9 11.4,-3 C12.6,2 11,8.5 6,11 C1,13.5 -6.5,13 -10.5,9.5 C-13,7 -12.8,3 -13,-2 Z" fill="#e4cfe9"/><ellipse cx="-0.3" cy="0.2" rx="9.0" ry="9.4" fill="#f2e7f4"/><path d="M-6.3,0.5 C-6.7,-4.6 -3.5,-7.2 0.5,-7.0 C3.5,-6.9 4.2,-4.7 5.2,-3.7 C6.5,-2.4 6.6,0.5 6.2,2.5 C5.4,5.9 2.8,7.2 -0.5,7.1 C-4,7.0 -6.1,4.6 -6.3,0.5 Z" fill="#bb88c6" stroke="#995ca7" stroke-width="1.0"/><circle cx="-6" cy="-7.8" r="1.1" fill="#9447a0"/><circle cx="-1" cy="-8.9" r="0.8" fill="#9447a0"/><circle cx="6" cy="-6.8" r="1.1" fill="#9447a0"/><circle cx="7.6" cy="-3.8" r="0.8" fill="#9447a0"/><circle cx="8.2" cy="5" r="1.0" fill="#9447a0"/><circle cx="4.5" cy="8.6" r="1.0" fill="#9447a0"/><circle cx="-1" cy="10" r="0.9" fill="#9447a0"/><circle cx="-8" cy="8.2" r="1.4" fill="#9447a0"/><circle cx="-10.8" cy="-1.5" r="0.9" fill="#9447a0"/><circle cx="9.3" cy="0.8" r="0.7" fill="#9447a0"/></g>
<rect x="0" y="0" width="520" height="1.5" fill="#111"/>
<rect x="0" y="0" width="1.2" height="692" fill="#111"/>
<rect x="518.8" y="0" width="1.2" height="692" fill="#111"/>
<rect x="0" y="690.5" width="520" height="1.5" fill="#111"/>
</svg>
</body></html>
